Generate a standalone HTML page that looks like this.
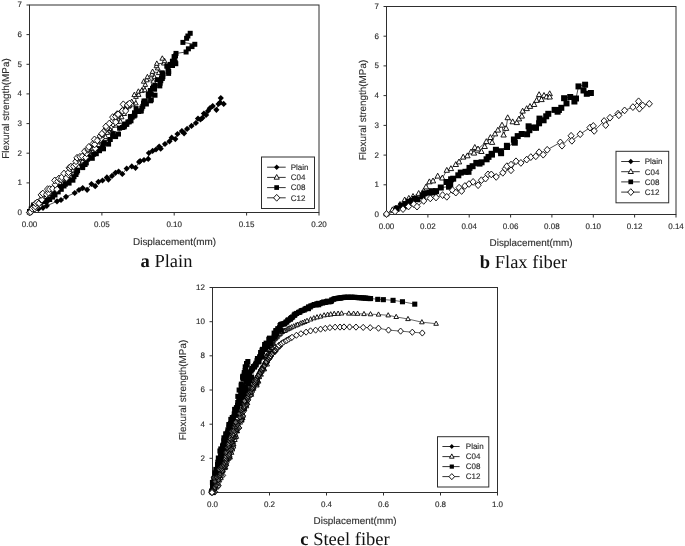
<!DOCTYPE html>
<html><head><meta charset="utf-8"><title>Flexural strength vs displacement</title>
<style>
html,body{margin:0;padding:0;background:#fff}
svg{display:block;text-rendering:geometricPrecision}
.t{font-family:"Liberation Sans",Arial,sans-serif;font-size:8px;fill:#2a2a2a;stroke:#333;stroke-width:0.15px}
.l{font-family:"Liberation Sans",Arial,sans-serif;font-size:9.9px;fill:#2a2a2a;stroke:#333;stroke-width:0.12px}
.c{font-family:"Liberation Serif","Times New Roman",serif;font-size:18.5px;fill:#111}
</style></head><body>
<svg width="685" height="546" viewBox="0 0 685 546">
<rect width="685" height="546" fill="#fff"/>
<g id="chart-a">
<rect x="29.5" y="5" width="289.5" height="207.5" fill="none" stroke="#2e2e2e" stroke-width="1"/>
<path d="M29.5 212.5v3" stroke="#2e2e2e" stroke-width="1"/>
<text x="29.5" y="227.2" text-anchor="middle" class="t">0.00</text>
<path d="M101.9 212.5v3" stroke="#2e2e2e" stroke-width="1"/>
<text x="101.9" y="227.2" text-anchor="middle" class="t">0.05</text>
<path d="M174.2 212.5v3" stroke="#2e2e2e" stroke-width="1"/>
<text x="174.2" y="227.2" text-anchor="middle" class="t">0.10</text>
<path d="M246.6 212.5v3" stroke="#2e2e2e" stroke-width="1"/>
<text x="246.6" y="227.2" text-anchor="middle" class="t">0.15</text>
<path d="M319 212.5v3" stroke="#2e2e2e" stroke-width="1"/>
<text x="319" y="227.2" text-anchor="middle" class="t">0.20</text>
<path d="M29.5 212.5h-3" stroke="#2e2e2e" stroke-width="1"/>
<text x="22" y="214.9" text-anchor="end" class="t">0</text>
<path d="M29.5 182.9h-3" stroke="#2e2e2e" stroke-width="1"/>
<text x="22" y="185.3" text-anchor="end" class="t">1</text>
<path d="M29.5 153.2h-3" stroke="#2e2e2e" stroke-width="1"/>
<text x="22" y="155.6" text-anchor="end" class="t">2</text>
<path d="M29.5 123.6h-3" stroke="#2e2e2e" stroke-width="1"/>
<text x="22" y="126" text-anchor="end" class="t">3</text>
<path d="M29.5 93.9h-3" stroke="#2e2e2e" stroke-width="1"/>
<text x="22" y="96.3" text-anchor="end" class="t">4</text>
<path d="M29.5 64.3h-3" stroke="#2e2e2e" stroke-width="1"/>
<text x="22" y="66.7" text-anchor="end" class="t">5</text>
<path d="M29.5 34.6h-3" stroke="#2e2e2e" stroke-width="1"/>
<text x="22" y="37" text-anchor="end" class="t">6</text>
<path d="M29.5 5h-3" stroke="#2e2e2e" stroke-width="1"/>
<text x="22" y="7.4" text-anchor="end" class="t">7</text>
<text transform="translate(9.2 108.5) rotate(-90)" text-anchor="middle" class="l">Flexural strength(MPa)</text>
<text x="174.5" y="245" text-anchor="middle" class="l">Displacement(mm)</text>
<text x="166.5" y="266.5" text-anchor="middle" class="c"><tspan font-weight="bold">a</tspan> Plain</text>
<g class="series-plain">
<path d="M29.5 212.5L38.5 209L43 207.8L46.8 205.8L57 201.3L61 200L66 196.8L74.7 193L79 190L82.7 188.1L87.1 189.8L91.5 184L95.2 186.2L98.4 181.8L102.5 180.5L106.9 177.4L108.4 179.6L112 175.9L115.5 172.8L118.6 171.5L122.3 174L126.7 168.6L131.8 166.4L135.5 167.8L139.1 162L140.1 161.1L144 160L148.2 158.9L148.9 153L152.6 150.9L156 149.5L159.2 146.5L160.7 148.7L165 144L169.5 141.3L171.7 137.7L175.3 139.1L177.5 134L181.9 131.1L184.1 133.3L187.1 128.9L191.5 125.9L195.9 123L198 118.6L200.5 119.5L202.4 117.9L203.9 113.5L206.1 114.9L208 111L209.8 108.3L212.7 106.1L216.4 109.8L218.5 104L220.8 98.1L220 102.5L223.7 103.9" fill="none" stroke="#000" stroke-width="0.7"/>
<g fill="#000">
<path d="M26.4 212.5L29.5 209.4L32.6 212.5L29.5 215.6Z"/>
<path d="M35.4 209L38.5 205.9L41.6 209L38.5 212.1Z"/>
<path d="M39.9 207.8L43 204.7L46.1 207.8L43 210.9Z"/>
<path d="M43.7 205.8L46.8 202.7L49.9 205.8L46.8 208.9Z"/>
<path d="M53.9 201.3L57 198.2L60.1 201.3L57 204.4Z"/>
<path d="M57.9 200L61 196.9L64.1 200L61 203.1Z"/>
<path d="M62.9 196.8L66 193.7L69.1 196.8L66 199.9Z"/>
<path d="M71.6 193L74.7 189.9L77.8 193L74.7 196.1Z"/>
<path d="M75.9 190L79 186.9L82.1 190L79 193.1Z"/>
<path d="M79.6 188.1L82.7 185L85.8 188.1L82.7 191.2Z"/>
<path d="M84 189.8L87.1 186.7L90.2 189.8L87.1 192.9Z"/>
<path d="M88.4 184L91.5 180.9L94.6 184L91.5 187.1Z"/>
<path d="M92.1 186.2L95.2 183.1L98.3 186.2L95.2 189.3Z"/>
<path d="M95.3 181.8L98.4 178.7L101.5 181.8L98.4 184.9Z"/>
<path d="M99.4 180.5L102.5 177.4L105.6 180.5L102.5 183.6Z"/>
<path d="M103.8 177.4L106.9 174.3L110 177.4L106.9 180.5Z"/>
<path d="M105.3 179.6L108.4 176.5L111.5 179.6L108.4 182.7Z"/>
<path d="M108.9 175.9L112 172.8L115.1 175.9L112 179Z"/>
<path d="M112.4 172.8L115.5 169.7L118.6 172.8L115.5 175.9Z"/>
<path d="M115.5 171.5L118.6 168.4L121.7 171.5L118.6 174.6Z"/>
<path d="M119.2 174L122.3 170.9L125.4 174L122.3 177.1Z"/>
<path d="M123.6 168.6L126.7 165.5L129.8 168.6L126.7 171.7Z"/>
<path d="M128.7 166.4L131.8 163.3L134.9 166.4L131.8 169.5Z"/>
<path d="M132.4 167.8L135.5 164.7L138.6 167.8L135.5 170.9Z"/>
<path d="M136 162L139.1 158.9L142.2 162L139.1 165.1Z"/>
<path d="M137 161.1L140.1 158L143.2 161.1L140.1 164.2Z"/>
<path d="M140.9 160L144 156.9L147.1 160L144 163.1Z"/>
<path d="M145.1 158.9L148.2 155.8L151.3 158.9L148.2 162Z"/>
<path d="M145.8 153L148.9 149.9L152 153L148.9 156.1Z"/>
<path d="M149.5 150.9L152.6 147.8L155.7 150.9L152.6 154Z"/>
<path d="M152.9 149.5L156 146.4L159.1 149.5L156 152.6Z"/>
<path d="M156.1 146.5L159.2 143.4L162.3 146.5L159.2 149.6Z"/>
<path d="M157.6 148.7L160.7 145.6L163.8 148.7L160.7 151.8Z"/>
<path d="M161.9 144L165 140.9L168.1 144L165 147.1Z"/>
<path d="M166.4 141.3L169.5 138.2L172.6 141.3L169.5 144.4Z"/>
<path d="M168.6 137.7L171.7 134.6L174.8 137.7L171.7 140.8Z"/>
<path d="M172.2 139.1L175.3 136L178.4 139.1L175.3 142.2Z"/>
<path d="M174.4 134L177.5 130.9L180.6 134L177.5 137.1Z"/>
<path d="M178.8 131.1L181.9 128L185 131.1L181.9 134.2Z"/>
<path d="M181 133.3L184.1 130.2L187.2 133.3L184.1 136.4Z"/>
<path d="M184 128.9L187.1 125.8L190.2 128.9L187.1 132Z"/>
<path d="M188.4 125.9L191.5 122.8L194.6 125.9L191.5 129Z"/>
<path d="M192.8 123L195.9 119.9L199 123L195.9 126.1Z"/>
<path d="M194.9 118.6L198 115.5L201.1 118.6L198 121.7Z"/>
<path d="M197.4 119.5L200.5 116.4L203.6 119.5L200.5 122.6Z"/>
<path d="M199.3 117.9L202.4 114.8L205.5 117.9L202.4 121Z"/>
<path d="M200.8 113.5L203.9 110.4L207 113.5L203.9 116.6Z"/>
<path d="M203 114.9L206.1 111.8L209.2 114.9L206.1 118Z"/>
<path d="M204.9 111L208 107.9L211.1 111L208 114.1Z"/>
<path d="M206.7 108.3L209.8 105.2L212.9 108.3L209.8 111.4Z"/>
<path d="M209.6 106.1L212.7 103L215.8 106.1L212.7 109.2Z"/>
<path d="M213.3 109.8L216.4 106.7L219.5 109.8L216.4 112.9Z"/>
<path d="M215.4 104L218.5 100.9L221.6 104L218.5 107.1Z"/>
<path d="M217.7 98.1L220.8 95L223.9 98.1L220.8 101.2Z"/>
<path d="M216.9 102.5L220 99.4L223.1 102.5L220 105.6Z"/>
<path d="M220.6 103.9L223.7 100.8L226.8 103.9L223.7 107Z"/>
</g></g>
<g class="series-c04">
<path d="M29.5 212.5L30.5 212L33.4 208.5L33.6 208.8L37.5 207L36.1 204.6L40.7 203.2L43.5 201.6L42.6 199.8L43.4 197.6L45.5 197.7L47.4 194.6L49.8 194L53.3 193.2L54 191.3L53 189.4L54.9 188.1L57.5 186.4L60.6 185.4L59.6 182.8L63 180.2L64.8 179.2L66.2 179.3L66.3 175.8L69.9 174.1L70.6 171.3L73 170.3L76.1 169.6L74.5 166.6L78.6 166.4L79.3 162.7L81.7 163.3L82.5 161.3L82.7 158.4L83.8 158L89.7 158L90.6 155.3L91.4 153.1L92.6 152L91.3 148.4L96 148.7L94.3 143.4L98.6 145L97.2 140.8L100.7 141.1L103.6 138.9L105.5 138.9L105.5 136.9L106.2 132.1L107.3 132.7L112 131.7L109.7 128.9L112 125.6L115.6 125.4L113.4 122.9L117.5 121.8L120.5 121.5L117.9 116.6L121.6 117.2L124.2 113.8L122.5 110.9L123.7 110.1L126.3 107.7L128.6 106.4L129.4 105.6L132.7 104.3L131.7 101.7L135.8 103.3L135.9 96.7L134.3 94.9L138.7 94.7L138.4 91.5L142.2 90.1L141.8 90.6L144.9 90.1L145.3 84.8L143.8 81.5L146.8 80.1L153.3 81.4L147.4 77L154.4 77L151.9 74.4L152.6 71.7L158.8 72.9L157.7 68.2L156.5 66L156.8 63.6L163.9 63.4L164.6 61L162.3 58.5" fill="none" stroke="#000" stroke-width="0.7"/>
<g fill="#fff" stroke="#000" stroke-width="0.9">
<path d="M29.5 209.8L31.9 214.2L27.1 214.2Z"/>
<path d="M30.5 209.3L32.8 213.7L28.1 213.7Z"/>
<path d="M33.4 205.8L35.8 210.2L31.1 210.2Z"/>
<path d="M33.6 206.1L36 210.5L31.3 210.5Z"/>
<path d="M37.5 204.3L39.9 208.7L35.2 208.7Z"/>
<path d="M36.1 201.9L38.5 206.3L33.8 206.3Z"/>
<path d="M40.7 200.5L43 204.9L38.3 204.9Z"/>
<path d="M43.5 198.9L45.8 203.3L41.1 203.3Z"/>
<path d="M42.6 197.1L44.9 201.5L40.2 201.5Z"/>
<path d="M43.4 194.9L45.8 199.3L41.1 199.3Z"/>
<path d="M45.5 195L47.9 199.4L43.2 199.4Z"/>
<path d="M47.4 191.9L49.8 196.2L45.1 196.2Z"/>
<path d="M49.8 191.3L52.2 195.7L47.5 195.7Z"/>
<path d="M53.3 190.5L55.7 194.9L51 194.9Z"/>
<path d="M54 188.6L56.3 193L51.6 193Z"/>
<path d="M53 186.7L55.4 191L50.7 191Z"/>
<path d="M54.9 185.4L57.3 189.8L52.6 189.8Z"/>
<path d="M57.5 183.7L59.8 188.1L55.1 188.1Z"/>
<path d="M60.6 182.7L63 187.1L58.3 187.1Z"/>
<path d="M59.6 180.1L62 184.5L57.3 184.5Z"/>
<path d="M63 177.5L65.4 181.9L60.7 181.9Z"/>
<path d="M64.8 176.5L67.2 180.9L62.5 180.9Z"/>
<path d="M66.2 176.6L68.6 181L63.9 181Z"/>
<path d="M66.3 173.1L68.7 177.5L64 177.5Z"/>
<path d="M69.9 171.4L72.3 175.8L67.6 175.8Z"/>
<path d="M70.6 168.6L73 173L68.3 173Z"/>
<path d="M73 167.6L75.4 172L70.7 172Z"/>
<path d="M76.1 166.9L78.4 171.3L73.7 171.3Z"/>
<path d="M74.5 163.9L76.8 168.2L72.1 168.2Z"/>
<path d="M78.6 163.7L80.9 168.1L76.2 168.1Z"/>
<path d="M79.3 160.1L81.7 164.4L77 164.4Z"/>
<path d="M81.7 160.6L84 164.9L79.3 164.9Z"/>
<path d="M82.5 158.6L84.9 163L80.2 163Z"/>
<path d="M82.7 155.8L85 160.1L80.3 160.1Z"/>
<path d="M83.8 155.3L86.1 159.7L81.4 159.7Z"/>
<path d="M89.7 155.3L92 159.6L87.3 159.6Z"/>
<path d="M90.6 152.6L93 156.9L88.3 156.9Z"/>
<path d="M91.4 150.5L93.7 154.8L89 154.8Z"/>
<path d="M92.6 149.3L95 153.6L90.3 153.6Z"/>
<path d="M91.3 145.7L93.6 150.1L88.9 150.1Z"/>
<path d="M96 146L98.4 150.4L93.7 150.4Z"/>
<path d="M94.3 140.7L96.6 145L91.9 145Z"/>
<path d="M98.6 142.3L100.9 146.6L96.2 146.6Z"/>
<path d="M97.2 138.1L99.5 142.5L94.8 142.5Z"/>
<path d="M100.7 138.4L103.1 142.8L98.4 142.8Z"/>
<path d="M103.6 136.2L105.9 140.6L101.2 140.6Z"/>
<path d="M105.5 136.2L107.9 140.6L103.2 140.6Z"/>
<path d="M105.5 134.2L107.8 138.6L103.1 138.6Z"/>
<path d="M106.2 129.4L108.5 133.8L103.8 133.8Z"/>
<path d="M107.3 130L109.6 134.4L104.9 134.4Z"/>
<path d="M112 129L114.3 133.4L109.6 133.4Z"/>
<path d="M109.7 126.2L112.1 130.5L107.4 130.5Z"/>
<path d="M112 122.9L114.3 127.3L109.6 127.3Z"/>
<path d="M115.6 122.7L117.9 127.1L113.2 127.1Z"/>
<path d="M113.4 120.2L115.8 124.6L111.1 124.6Z"/>
<path d="M117.5 119.1L119.8 123.4L115.1 123.4Z"/>
<path d="M120.5 118.8L122.9 123.2L118.2 123.2Z"/>
<path d="M117.9 113.9L120.3 118.2L115.6 118.2Z"/>
<path d="M121.6 114.5L124 118.8L119.3 118.8Z"/>
<path d="M124.2 111.2L126.5 115.5L121.8 115.5Z"/>
<path d="M122.5 108.2L124.9 112.6L120.2 112.6Z"/>
<path d="M123.7 107.4L126.1 111.8L121.4 111.8Z"/>
<path d="M126.3 105.1L128.6 109.4L123.9 109.4Z"/>
<path d="M128.6 103.8L131 108.1L126.3 108.1Z"/>
<path d="M129.4 102.9L131.8 107.3L127.1 107.3Z"/>
<path d="M132.7 101.6L135.1 106L130.4 106Z"/>
<path d="M131.7 99L134 103.3L129.3 103.3Z"/>
<path d="M135.8 100.6L138.2 104.9L133.5 104.9Z"/>
<path d="M135.9 94L138.3 98.4L133.6 98.4Z"/>
<path d="M134.3 92.2L136.6 96.6L131.9 96.6Z"/>
<path d="M138.7 92L141 96.4L136.3 96.4Z"/>
<path d="M138.4 88.8L140.7 93.1L136 93.1Z"/>
<path d="M142.2 87.4L144.6 91.8L139.9 91.8Z"/>
<path d="M141.8 87.9L144.1 92.3L139.4 92.3Z"/>
<path d="M144.9 87.4L147.3 91.8L142.5 91.8Z"/>
<path d="M145.3 82.1L147.6 86.4L142.9 86.4Z"/>
<path d="M143.8 78.8L146.1 83.2L141.4 83.2Z"/>
<path d="M146.8 77.4L149.2 81.8L144.5 81.8Z"/>
<path d="M153.3 78.8L155.6 83.1L150.9 83.1Z"/>
<path d="M147.4 74.3L149.8 78.7L145.1 78.7Z"/>
<path d="M154.4 74.3L156.8 78.7L152.1 78.7Z"/>
<path d="M151.9 71.8L154.2 76.1L149.5 76.1Z"/>
<path d="M152.6 69L154.9 73.4L150.2 73.4Z"/>
<path d="M158.8 70.2L161.1 74.6L156.4 74.6Z"/>
<path d="M157.7 65.5L160 69.9L155.3 69.9Z"/>
<path d="M156.5 63.3L158.8 67.7L154.1 67.7Z"/>
<path d="M156.8 60.9L159.2 65.3L154.5 65.3Z"/>
<path d="M163.9 60.7L166.2 65L161.5 65Z"/>
<path d="M164.6 58.3L166.9 62.7L162.2 62.7Z"/>
<path d="M162.3 55.8L164.7 60.2L159.9 60.2Z"/>
</g></g>
<g class="series-c08">
<path d="M29.5 211.5L31.2 209.1L33 207.3L33.6 205.1L36.2 205.1L39.9 202.8L43.8 201.6L46.1 201.6L46.9 200.5L49.8 199.5L52.7 197.1L55 195L54.4 192.4L58.2 191.9L61.3 189.3L59.6 187.4L64.1 186L65.4 184.3L69.1 183.1L68.7 179.7L72.9 180.2L74.1 176.8L76 174.5L76.9 172.1L77.6 170.5L82.8 167.6L82.6 165.9L85.1 164.5L86.3 162.9L87.6 159.2L88.6 157.4L92.3 158.3L93.7 154.3L96.3 153.8L99.5 150.7L99.8 148.9L103.5 148.8L102.9 144.7L104.3 143.5L108.6 144.1L110.3 139.5L112.6 136.4L115.7 136.6L113.3 133.6L118.5 134.2L119.7 128.3L122.4 127.5L124 126.8L124 126.8L124.5 125.6L125.4 124.1L126.8 124.4L127.9 121.9L129.4 121.9L131 120.8L130.5 116.4L132.2 117.3L134.1 116L135 115.1L134.6 112.8L138.7 111.5L136.2 108.6L140.5 110.9L141.4 111L141.9 108.1L142.8 106.4L143.5 103.1L144.1 101L146.4 104L145.3 101.2L150.6 100.8L151.4 99.8L148.4 96.3L148.3 94.2L151.3 94.4L155 95.2L150.3 90.5L152.5 88.3L154.7 89.2L153.5 86.7L155.1 85.6L159.8 85.9L160.1 83.3L157.5 79.7L160.9 80.9L162.4 78.5L161.5 77.8L162.9 76.7L163.1 73.8L162.2 72.8L168.6 73.4L168.7 71.5L168 69L166.8 66.2L168.1 66.1L170.1 64.5L172.5 65.6L172.4 61.3L175.8 63.8L175.2 62.1L174.4 59.7L174.1 56.6L175.5 56L176 53.4L186.1 52L188.4 48.8L192 46.6L194.8 44.3L182.9 42.4L186.6 38.3L187.9 36L190.2 33.3" fill="none" stroke="#000" stroke-width="0.7"/>
<g fill="#000">
<path d="M27 209h5v5h-5Z"/>
<path d="M28.7 206.5h5v5h-5Z"/>
<path d="M30.5 204.7h5v5h-5Z"/>
<path d="M31.1 202.6h5v5h-5Z"/>
<path d="M33.7 202.6h5v5h-5Z"/>
<path d="M37.4 200.3h5v5h-5Z"/>
<path d="M41.3 199h5v5h-5Z"/>
<path d="M43.6 199.1h5v5h-5Z"/>
<path d="M44.4 197.9h5v5h-5Z"/>
<path d="M47.2 197h5v5h-5Z"/>
<path d="M50.1 194.6h5v5h-5Z"/>
<path d="M52.5 192.5h5v5h-5Z"/>
<path d="M51.9 189.8h5v5h-5Z"/>
<path d="M55.7 189.4h5v5h-5Z"/>
<path d="M58.8 186.8h5v5h-5Z"/>
<path d="M57.1 184.9h5v5h-5Z"/>
<path d="M61.5 183.5h5v5h-5Z"/>
<path d="M62.8 181.8h5v5h-5Z"/>
<path d="M66.6 180.6h5v5h-5Z"/>
<path d="M66.1 177.2h5v5h-5Z"/>
<path d="M70.4 177.7h5v5h-5Z"/>
<path d="M71.5 174.2h5v5h-5Z"/>
<path d="M73.5 172h5v5h-5Z"/>
<path d="M74.4 169.6h5v5h-5Z"/>
<path d="M75.1 168h5v5h-5Z"/>
<path d="M80.2 165.1h5v5h-5Z"/>
<path d="M80.1 163.4h5v5h-5Z"/>
<path d="M82.6 162h5v5h-5Z"/>
<path d="M83.8 160.4h5v5h-5Z"/>
<path d="M85.1 156.7h5v5h-5Z"/>
<path d="M86 154.9h5v5h-5Z"/>
<path d="M89.8 155.8h5v5h-5Z"/>
<path d="M91.2 151.8h5v5h-5Z"/>
<path d="M93.8 151.2h5v5h-5Z"/>
<path d="M97 148.2h5v5h-5Z"/>
<path d="M97.3 146.4h5v5h-5Z"/>
<path d="M101 146.3h5v5h-5Z"/>
<path d="M100.4 142.2h5v5h-5Z"/>
<path d="M101.8 140.9h5v5h-5Z"/>
<path d="M106.1 141.6h5v5h-5Z"/>
<path d="M107.8 137h5v5h-5Z"/>
<path d="M110.1 133.8h5v5h-5Z"/>
<path d="M113.1 134.1h5v5h-5Z"/>
<path d="M110.8 131.1h5v5h-5Z"/>
<path d="M116 131.6h5v5h-5Z"/>
<path d="M117.1 125.7h5v5h-5Z"/>
<path d="M119.9 125h5v5h-5Z"/>
<path d="M121.5 124.3h5v5h-5Z"/>
<path d="M121.5 124.3h5v5h-5Z"/>
<path d="M122 123.1h5v5h-5Z"/>
<path d="M122.9 121.5h5v5h-5Z"/>
<path d="M124.3 121.9h5v5h-5Z"/>
<path d="M125.4 119.4h5v5h-5Z"/>
<path d="M126.8 119.3h5v5h-5Z"/>
<path d="M128.5 118.3h5v5h-5Z"/>
<path d="M127.9 113.9h5v5h-5Z"/>
<path d="M129.7 114.7h5v5h-5Z"/>
<path d="M131.6 113.5h5v5h-5Z"/>
<path d="M132.5 112.6h5v5h-5Z"/>
<path d="M132 110.3h5v5h-5Z"/>
<path d="M136.2 109h5v5h-5Z"/>
<path d="M133.6 106.1h5v5h-5Z"/>
<path d="M138 108.4h5v5h-5Z"/>
<path d="M138.8 108.5h5v5h-5Z"/>
<path d="M139.3 105.6h5v5h-5Z"/>
<path d="M140.3 103.9h5v5h-5Z"/>
<path d="M141 100.6h5v5h-5Z"/>
<path d="M141.5 98.5h5v5h-5Z"/>
<path d="M143.9 101.5h5v5h-5Z"/>
<path d="M142.8 98.7h5v5h-5Z"/>
<path d="M148.1 98.3h5v5h-5Z"/>
<path d="M148.8 97.3h5v5h-5Z"/>
<path d="M145.9 93.8h5v5h-5Z"/>
<path d="M145.8 91.7h5v5h-5Z"/>
<path d="M148.7 91.9h5v5h-5Z"/>
<path d="M152.5 92.7h5v5h-5Z"/>
<path d="M147.8 88h5v5h-5Z"/>
<path d="M150 85.8h5v5h-5Z"/>
<path d="M152.1 86.7h5v5h-5Z"/>
<path d="M151 84.2h5v5h-5Z"/>
<path d="M152.6 83h5v5h-5Z"/>
<path d="M157.3 83.4h5v5h-5Z"/>
<path d="M157.6 80.7h5v5h-5Z"/>
<path d="M155 77.2h5v5h-5Z"/>
<path d="M158.3 78.3h5v5h-5Z"/>
<path d="M159.8 76h5v5h-5Z"/>
<path d="M159 75.3h5v5h-5Z"/>
<path d="M160.4 74.2h5v5h-5Z"/>
<path d="M160.5 71.3h5v5h-5Z"/>
<path d="M159.7 70.3h5v5h-5Z"/>
<path d="M166.1 70.9h5v5h-5Z"/>
<path d="M166.2 69h5v5h-5Z"/>
<path d="M165.5 66.5h5v5h-5Z"/>
<path d="M164.3 63.7h5v5h-5Z"/>
<path d="M165.6 63.5h5v5h-5Z"/>
<path d="M167.6 61.9h5v5h-5Z"/>
<path d="M170 63h5v5h-5Z"/>
<path d="M169.9 58.7h5v5h-5Z"/>
<path d="M173.3 61.2h5v5h-5Z"/>
<path d="M172.7 59.6h5v5h-5Z"/>
<path d="M171.9 57.2h5v5h-5Z"/>
<path d="M171.6 54.1h5v5h-5Z"/>
<path d="M173 53.5h5v5h-5Z"/>
<path d="M173.5 50.9h5v5h-5Z"/>
<path d="M183.6 49.5h5v5h-5Z"/>
<path d="M185.9 46.3h5v5h-5Z"/>
<path d="M189.5 44.1h5v5h-5Z"/>
<path d="M192.3 41.8h5v5h-5Z"/>
<path d="M180.4 39.9h5v5h-5Z"/>
<path d="M184.1 35.8h5v5h-5Z"/>
<path d="M185.4 33.5h5v5h-5Z"/>
<path d="M187.7 30.8h5v5h-5Z"/>
</g></g>
<g class="series-c12">
<path d="M29.5 212.5L30.7 211.9L32.2 208.8L34.8 208.6L35.2 206.4L35.6 203.4L37.2 202.4L39.1 203.3L41.1 199.6L41.9 199.7L41.2 194.9L42.8 193.5L46.6 194.3L48.5 192.7L47.6 189.1L49.7 189.1L52.6 188.8L56.9 189.2L55.3 184.7L54.8 180.4L57.8 181.3L58.9 178.5L61.1 179.4L61.8 177.2L66.4 178L64 173.5L68.4 174.5L68.6 172.3L69.2 167.8L70 168.4L70.9 166.6L73.7 166.3L75.7 164.6L76 161.3L77.7 158.3L77 157.8L79.9 156.8L82.3 156.4L85.8 157.4L86.6 153.3L84.7 151.3L87.9 149.9L88.2 148.7L88.8 146.9L95.2 148.4L93.1 143.7L94.7 144.4L94.5 139.4L97.3 140.5L101.3 138.3L100.3 135.9L102.3 134.7L102 133.6L105.1 130.3L106.9 128.9L106.8 127.8L106 126.4L111.6 125.7L113 123.8L112.9 120.8L115.7 122.1L112.7 117.1L115.6 116.6L117.1 114.1L118.1 114.3L121.9 111.3L122.4 110.9L125.6 110.9L123.3 104.3L127.6 105.5L127.5 105L129.5 103.5L109.3 123.5" fill="none" stroke="#000" stroke-width="0.7"/>
<g fill="#fff" stroke="#000" stroke-width="0.9">
<path d="M26.4 212.5L29.5 209.1L32.6 212.5L29.5 215.9Z"/>
<path d="M27.6 211.9L30.7 208.5L33.8 211.9L30.7 215.3Z"/>
<path d="M29.1 208.8L32.2 205.4L35.3 208.8L32.2 212.2Z"/>
<path d="M31.7 208.6L34.8 205.2L37.9 208.6L34.8 212Z"/>
<path d="M32.1 206.4L35.2 203L38.3 206.4L35.2 209.8Z"/>
<path d="M32.5 203.4L35.6 200L38.7 203.4L35.6 206.8Z"/>
<path d="M34.1 202.4L37.2 199L40.3 202.4L37.2 205.8Z"/>
<path d="M36 203.3L39.1 199.9L42.2 203.3L39.1 206.7Z"/>
<path d="M38 199.6L41.1 196.2L44.2 199.6L41.1 203Z"/>
<path d="M38.8 199.7L41.9 196.3L45 199.7L41.9 203.1Z"/>
<path d="M38.1 194.9L41.2 191.5L44.3 194.9L41.2 198.3Z"/>
<path d="M39.7 193.5L42.8 190.1L45.9 193.5L42.8 196.9Z"/>
<path d="M43.5 194.3L46.6 190.9L49.7 194.3L46.6 197.7Z"/>
<path d="M45.4 192.7L48.5 189.3L51.6 192.7L48.5 196.1Z"/>
<path d="M44.5 189.1L47.6 185.7L50.7 189.1L47.6 192.5Z"/>
<path d="M46.6 189.1L49.7 185.7L52.8 189.1L49.7 192.5Z"/>
<path d="M49.5 188.8L52.6 185.4L55.7 188.8L52.6 192.2Z"/>
<path d="M53.8 189.2L56.9 185.8L60 189.2L56.9 192.6Z"/>
<path d="M52.2 184.7L55.3 181.3L58.4 184.7L55.3 188.1Z"/>
<path d="M51.7 180.4L54.8 177L57.9 180.4L54.8 183.8Z"/>
<path d="M54.7 181.3L57.8 177.9L60.9 181.3L57.8 184.7Z"/>
<path d="M55.8 178.5L58.9 175.1L62 178.5L58.9 181.9Z"/>
<path d="M58 179.4L61.1 176L64.2 179.4L61.1 182.8Z"/>
<path d="M58.7 177.2L61.8 173.8L64.9 177.2L61.8 180.6Z"/>
<path d="M63.3 178L66.4 174.6L69.5 178L66.4 181.4Z"/>
<path d="M60.9 173.5L64 170.1L67.1 173.5L64 176.9Z"/>
<path d="M65.3 174.5L68.4 171.1L71.5 174.5L68.4 177.9Z"/>
<path d="M65.5 172.3L68.6 168.9L71.7 172.3L68.6 175.7Z"/>
<path d="M66.1 167.8L69.2 164.4L72.3 167.8L69.2 171.2Z"/>
<path d="M66.9 168.4L70 165L73.1 168.4L70 171.8Z"/>
<path d="M67.8 166.6L70.9 163.2L74 166.6L70.9 170Z"/>
<path d="M70.6 166.3L73.7 162.9L76.8 166.3L73.7 169.7Z"/>
<path d="M72.6 164.6L75.7 161.2L78.8 164.6L75.7 168Z"/>
<path d="M72.9 161.3L76 157.9L79.1 161.3L76 164.7Z"/>
<path d="M74.6 158.3L77.7 154.9L80.8 158.3L77.7 161.7Z"/>
<path d="M73.9 157.8L77 154.4L80.1 157.8L77 161.2Z"/>
<path d="M76.8 156.8L79.9 153.4L83 156.8L79.9 160.2Z"/>
<path d="M79.2 156.4L82.3 153L85.4 156.4L82.3 159.8Z"/>
<path d="M82.7 157.4L85.8 154L88.9 157.4L85.8 160.8Z"/>
<path d="M83.5 153.3L86.6 149.9L89.7 153.3L86.6 156.7Z"/>
<path d="M81.6 151.3L84.7 147.9L87.8 151.3L84.7 154.7Z"/>
<path d="M84.8 149.9L87.9 146.5L91 149.9L87.9 153.3Z"/>
<path d="M85.1 148.7L88.2 145.3L91.3 148.7L88.2 152.1Z"/>
<path d="M85.7 146.9L88.8 143.5L91.9 146.9L88.8 150.3Z"/>
<path d="M92.1 148.4L95.2 145L98.3 148.4L95.2 151.8Z"/>
<path d="M90 143.7L93.1 140.3L96.2 143.7L93.1 147.1Z"/>
<path d="M91.6 144.4L94.7 141L97.8 144.4L94.7 147.8Z"/>
<path d="M91.4 139.4L94.5 136L97.6 139.4L94.5 142.8Z"/>
<path d="M94.2 140.5L97.3 137.1L100.4 140.5L97.3 143.9Z"/>
<path d="M98.2 138.3L101.3 134.9L104.4 138.3L101.3 141.7Z"/>
<path d="M97.2 135.9L100.3 132.5L103.4 135.9L100.3 139.3Z"/>
<path d="M99.2 134.7L102.3 131.3L105.4 134.7L102.3 138.1Z"/>
<path d="M98.9 133.6L102 130.2L105.1 133.6L102 137Z"/>
<path d="M102 130.3L105.1 126.9L108.2 130.3L105.1 133.7Z"/>
<path d="M103.8 128.9L106.9 125.5L110 128.9L106.9 132.3Z"/>
<path d="M103.7 127.8L106.8 124.4L109.9 127.8L106.8 131.2Z"/>
<path d="M102.9 126.4L106 123L109.1 126.4L106 129.8Z"/>
<path d="M108.5 125.7L111.6 122.3L114.7 125.7L111.6 129.1Z"/>
<path d="M109.9 123.8L113 120.4L116.1 123.8L113 127.2Z"/>
<path d="M109.8 120.8L112.9 117.4L116 120.8L112.9 124.2Z"/>
<path d="M112.6 122.1L115.7 118.7L118.8 122.1L115.7 125.5Z"/>
<path d="M109.6 117.1L112.7 113.7L115.8 117.1L112.7 120.5Z"/>
<path d="M112.5 116.6L115.6 113.2L118.7 116.6L115.6 120Z"/>
<path d="M114 114.1L117.1 110.7L120.2 114.1L117.1 117.5Z"/>
<path d="M115 114.3L118.1 110.9L121.2 114.3L118.1 117.7Z"/>
<path d="M118.8 111.3L121.9 107.9L125 111.3L121.9 114.7Z"/>
<path d="M119.3 110.9L122.4 107.5L125.5 110.9L122.4 114.3Z"/>
<path d="M122.5 110.9L125.6 107.5L128.7 110.9L125.6 114.3Z"/>
<path d="M120.2 104.3L123.3 100.9L126.4 104.3L123.3 107.7Z"/>
<path d="M124.5 105.5L127.6 102.1L130.7 105.5L127.6 108.9Z"/>
<path d="M124.4 105L127.5 101.6L130.6 105L127.5 108.4Z"/>
<path d="M126.4 103.5L129.5 100.1L132.6 103.5L129.5 106.9Z"/>
<path d="M106.2 123.5L109.3 120.1L112.4 123.5L109.3 126.9Z"/>
</g></g>
<rect x="261.5" y="157" width="53" height="51.5" fill="#fff" stroke="#2e2e2e" stroke-width="1"/>
<path d="M267.1 167.2h18.6" stroke="#000" stroke-width="0.8"/>
<g fill="#000"><path d="M274 167.2L276.7 164.5L279.4 167.2L276.7 169.9Z"/></g>
<text x="290.7" y="170" class="t">Plain</text>
<path d="M267.1 177.4h18.6" stroke="#000" stroke-width="0.8"/>
<g fill="#fff" stroke="#000" stroke-width="0.9"><path d="M276.7 174.5L279.3 179.2L274.1 179.2Z"/></g>
<text x="290.7" y="180.2" class="t">C04</text>
<path d="M267.1 187.6h18.6" stroke="#000" stroke-width="0.8"/>
<g fill="#000"><path d="M274.3 185.2h4.7v4.7h-4.7Z"/></g>
<text x="290.7" y="190.4" class="t">C08</text>
<path d="M267.1 197.8h18.6" stroke="#000" stroke-width="0.8"/>
<g fill="#fff" stroke="#000" stroke-width="0.9"><path d="M273.6 197.8L276.7 194.4L279.8 197.8L276.7 201.2Z"/></g>
<text x="290.7" y="200.6" class="t">C12</text>
</g>
<g id="chart-b">
<rect x="386.5" y="6.5" width="289.5" height="208" fill="none" stroke="#2e2e2e" stroke-width="1"/>
<path d="M386.5 214.5v3" stroke="#2e2e2e" stroke-width="1"/>
<text x="386.5" y="228.7" text-anchor="middle" class="t">0.00</text>
<path d="M427.9 214.5v3" stroke="#2e2e2e" stroke-width="1"/>
<text x="427.9" y="228.7" text-anchor="middle" class="t">0.02</text>
<path d="M469.2 214.5v3" stroke="#2e2e2e" stroke-width="1"/>
<text x="469.2" y="228.7" text-anchor="middle" class="t">0.04</text>
<path d="M510.6 214.5v3" stroke="#2e2e2e" stroke-width="1"/>
<text x="510.6" y="228.7" text-anchor="middle" class="t">0.06</text>
<path d="M551.9 214.5v3" stroke="#2e2e2e" stroke-width="1"/>
<text x="551.9" y="228.7" text-anchor="middle" class="t">0.08</text>
<path d="M593.3 214.5v3" stroke="#2e2e2e" stroke-width="1"/>
<text x="593.3" y="228.7" text-anchor="middle" class="t">0.10</text>
<path d="M634.6 214.5v3" stroke="#2e2e2e" stroke-width="1"/>
<text x="634.6" y="228.7" text-anchor="middle" class="t">0.12</text>
<path d="M676 214.5v3" stroke="#2e2e2e" stroke-width="1"/>
<text x="676" y="228.7" text-anchor="middle" class="t">0.14</text>
<path d="M386.5 214.5h-3" stroke="#2e2e2e" stroke-width="1"/>
<text x="379" y="216.9" text-anchor="end" class="t">0</text>
<path d="M386.5 184.8h-3" stroke="#2e2e2e" stroke-width="1"/>
<text x="379" y="187.2" text-anchor="end" class="t">1</text>
<path d="M386.5 155.1h-3" stroke="#2e2e2e" stroke-width="1"/>
<text x="379" y="157.5" text-anchor="end" class="t">2</text>
<path d="M386.5 125.4h-3" stroke="#2e2e2e" stroke-width="1"/>
<text x="379" y="127.8" text-anchor="end" class="t">3</text>
<path d="M386.5 95.6h-3" stroke="#2e2e2e" stroke-width="1"/>
<text x="379" y="98" text-anchor="end" class="t">4</text>
<path d="M386.5 65.9h-3" stroke="#2e2e2e" stroke-width="1"/>
<text x="379" y="68.3" text-anchor="end" class="t">5</text>
<path d="M386.5 36.2h-3" stroke="#2e2e2e" stroke-width="1"/>
<text x="379" y="38.6" text-anchor="end" class="t">6</text>
<path d="M386.5 6.5h-3" stroke="#2e2e2e" stroke-width="1"/>
<text x="379" y="8.9" text-anchor="end" class="t">7</text>
<text transform="translate(365.8 110) rotate(-90)" text-anchor="middle" class="l">Flexural strength(MPa)</text>
<text x="531" y="246.3" text-anchor="middle" class="l">Displacement(mm)</text>
<text x="523.5" y="267.5" text-anchor="middle" class="c"><tspan font-weight="bold">b</tspan> Flax fiber</text>
<g class="series-plain">
<g fill="#000">
<path d="M383.4 214L386.5 210.9L389.6 214L386.5 217.1Z"/>
</g></g>
<g class="series-c04">
<path d="M386.5 214L392.4 209.9L396 208L400 204.5L404.7 200L408.8 198.4L413 196.5L418.7 193.5L423.7 191L426 187L429.4 181.9L433 181L437.7 176.2L442.3 178.1L446.8 170.4L450.9 168.7L455.8 164.6L459 162L463.2 157.2L467.4 155.9L471 152L474.8 147.5L474 153.2L481.4 151.6L478 149L486.3 141.7L484.7 146.6L490.4 137.6L492.1 142.5L495 134L497.9 130.2L502 125.2L503.6 135.1L506.1 128.5L507.7 117.8L512.7 121.9L516.8 122.7L519 119L521.8 116.2L522.6 111.2L526.7 108.7L530 106.5L534.1 104.6L536.6 100.5L539.1 94.7L541.5 99.7L544 95.5L546.5 97L549.7 93.8L549.7 97.1" fill="none" stroke="#000" stroke-width="0.7"/>
<g fill="#fff" stroke="#000" stroke-width="0.9">
<path d="M386.5 211L389.2 215.9L383.8 215.9Z"/>
<path d="M392.4 206.9L395.1 211.8L389.7 211.8Z"/>
<path d="M396 205L398.7 209.9L393.3 209.9Z"/>
<path d="M400 201.5L402.7 206.4L397.3 206.4Z"/>
<path d="M404.7 197L407.4 201.9L402 201.9Z"/>
<path d="M408.8 195.4L411.5 200.3L406.1 200.3Z"/>
<path d="M413 193.5L415.7 198.4L410.3 198.4Z"/>
<path d="M418.7 190.5L421.4 195.4L416 195.4Z"/>
<path d="M423.7 188L426.4 192.9L421 192.9Z"/>
<path d="M426 184L428.7 188.9L423.3 188.9Z"/>
<path d="M429.4 178.9L432.1 183.8L426.7 183.8Z"/>
<path d="M433 178L435.7 182.9L430.3 182.9Z"/>
<path d="M437.7 173.2L440.4 178.1L435 178.1Z"/>
<path d="M442.3 175.1L445 180L439.6 180Z"/>
<path d="M446.8 167.4L449.5 172.3L444.1 172.3Z"/>
<path d="M450.9 165.7L453.6 170.6L448.2 170.6Z"/>
<path d="M455.8 161.6L458.5 166.5L453.1 166.5Z"/>
<path d="M459 159L461.7 163.9L456.3 163.9Z"/>
<path d="M463.2 154.2L465.9 159.1L460.5 159.1Z"/>
<path d="M467.4 152.9L470.1 157.8L464.7 157.8Z"/>
<path d="M471 149L473.7 153.9L468.3 153.9Z"/>
<path d="M474.8 144.5L477.5 149.4L472.1 149.4Z"/>
<path d="M474 150.2L476.7 155.1L471.3 155.1Z"/>
<path d="M481.4 148.6L484.1 153.5L478.7 153.5Z"/>
<path d="M478 146L480.7 150.9L475.3 150.9Z"/>
<path d="M486.3 138.7L489 143.6L483.6 143.6Z"/>
<path d="M484.7 143.6L487.4 148.5L482 148.5Z"/>
<path d="M490.4 134.6L493.1 139.5L487.7 139.5Z"/>
<path d="M492.1 139.5L494.8 144.4L489.4 144.4Z"/>
<path d="M495 131L497.7 135.9L492.3 135.9Z"/>
<path d="M497.9 127.2L500.6 132.1L495.2 132.1Z"/>
<path d="M502 122.2L504.7 127.1L499.3 127.1Z"/>
<path d="M503.6 132.1L506.3 137L500.9 137Z"/>
<path d="M506.1 125.5L508.8 130.4L503.4 130.4Z"/>
<path d="M507.7 114.8L510.4 119.7L505 119.7Z"/>
<path d="M512.7 118.9L515.4 123.8L510 123.8Z"/>
<path d="M516.8 119.7L519.5 124.6L514.1 124.6Z"/>
<path d="M519 116L521.7 120.9L516.3 120.9Z"/>
<path d="M521.8 113.2L524.5 118.1L519.1 118.1Z"/>
<path d="M522.6 108.2L525.3 113.1L519.9 113.1Z"/>
<path d="M526.7 105.7L529.4 110.6L524 110.6Z"/>
<path d="M530 103.5L532.7 108.4L527.3 108.4Z"/>
<path d="M534.1 101.6L536.8 106.5L531.4 106.5Z"/>
<path d="M536.6 97.5L539.3 102.4L533.9 102.4Z"/>
<path d="M539.1 91.7L541.8 96.6L536.4 96.6Z"/>
<path d="M541.5 96.7L544.2 101.6L538.8 101.6Z"/>
<path d="M544 92.5L546.7 97.4L541.3 97.4Z"/>
<path d="M546.5 94L549.2 98.9L543.8 98.9Z"/>
<path d="M549.7 90.8L552.4 95.7L547 95.7Z"/>
<path d="M549.7 94.1L552.4 99L547 99Z"/>
</g></g>
<g class="series-c08">
<path d="M396.5 208.8L401.3 205.8L404.1 205.8L405.7 204.1L408.4 201.8L411.8 201L414.7 199L417.5 199.3L422.6 196L424.4 193.4L429.3 192.7L431.8 191.2L434.4 192.4L436.1 191.1L440.8 187.5L449 186.7L446.5 182L450.2 184.1L451.1 179.3L453.2 178.7L458.3 175.3L460.8 172.6L465.5 171.8L468.5 171.8L469.5 167.9L472.6 166.2L479.5 163.6L476.3 162.9L481.6 162.3L486.6 159.3L488.5 156.9L492 154.6L491.6 153.8L495.9 149.8L501.1 153.2L500.9 151.2L506.9 145.8L507 147L514.8 142.7L514.3 140.8L513.9 139.6L517.7 136.1L521.7 134L527.1 134.3L529.4 130.2L528.6 126.3L533.9 127.5L536 127.8L539.1 123.3L539.5 118.6L543.6 120.3L546.2 116.3L548.3 113.8L554.6 109.9L557.6 111.7L558.9 110L561.3 107.8L566.5 103.4L564.1 98.2L570.2 97L574.4 101.5L576 98.5L578.5 86.4L585.1 84.7L583.5 90.5L586.8 93.8L590.9 93" fill="none" stroke="#000" stroke-width="0.7"/>
<g fill="#000">
<path d="M393.5 205.8h6v6h-6Z"/>
<path d="M398.3 202.8h6v6h-6Z"/>
<path d="M401.1 202.8h6v6h-6Z"/>
<path d="M402.7 201.1h6v6h-6Z"/>
<path d="M405.4 198.8h6v6h-6Z"/>
<path d="M408.8 198h6v6h-6Z"/>
<path d="M411.7 196h6v6h-6Z"/>
<path d="M414.5 196.3h6v6h-6Z"/>
<path d="M419.6 193h6v6h-6Z"/>
<path d="M421.4 190.4h6v6h-6Z"/>
<path d="M426.3 189.7h6v6h-6Z"/>
<path d="M428.8 188.2h6v6h-6Z"/>
<path d="M431.4 189.4h6v6h-6Z"/>
<path d="M433.1 188.1h6v6h-6Z"/>
<path d="M437.8 184.5h6v6h-6Z"/>
<path d="M446 183.7h6v6h-6Z"/>
<path d="M443.5 179h6v6h-6Z"/>
<path d="M447.2 181.1h6v6h-6Z"/>
<path d="M448.1 176.3h6v6h-6Z"/>
<path d="M450.2 175.7h6v6h-6Z"/>
<path d="M455.3 172.3h6v6h-6Z"/>
<path d="M457.8 169.6h6v6h-6Z"/>
<path d="M462.5 168.8h6v6h-6Z"/>
<path d="M465.5 168.8h6v6h-6Z"/>
<path d="M466.5 164.9h6v6h-6Z"/>
<path d="M469.6 163.2h6v6h-6Z"/>
<path d="M476.5 160.6h6v6h-6Z"/>
<path d="M473.3 159.9h6v6h-6Z"/>
<path d="M478.6 159.3h6v6h-6Z"/>
<path d="M483.6 156.3h6v6h-6Z"/>
<path d="M485.5 153.9h6v6h-6Z"/>
<path d="M489 151.6h6v6h-6Z"/>
<path d="M488.6 150.8h6v6h-6Z"/>
<path d="M492.9 146.8h6v6h-6Z"/>
<path d="M498.1 150.2h6v6h-6Z"/>
<path d="M497.9 148.2h6v6h-6Z"/>
<path d="M503.9 142.8h6v6h-6Z"/>
<path d="M504 144h6v6h-6Z"/>
<path d="M511.8 139.7h6v6h-6Z"/>
<path d="M511.3 137.8h6v6h-6Z"/>
<path d="M510.9 136.6h6v6h-6Z"/>
<path d="M514.7 133.1h6v6h-6Z"/>
<path d="M518.7 131h6v6h-6Z"/>
<path d="M524.1 131.3h6v6h-6Z"/>
<path d="M526.4 127.2h6v6h-6Z"/>
<path d="M525.6 123.3h6v6h-6Z"/>
<path d="M530.9 124.5h6v6h-6Z"/>
<path d="M533 124.8h6v6h-6Z"/>
<path d="M536.1 120.3h6v6h-6Z"/>
<path d="M536.5 115.6h6v6h-6Z"/>
<path d="M540.6 117.3h6v6h-6Z"/>
<path d="M543.2 113.3h6v6h-6Z"/>
<path d="M545.3 110.8h6v6h-6Z"/>
<path d="M551.6 106.9h6v6h-6Z"/>
<path d="M554.6 108.7h6v6h-6Z"/>
<path d="M555.9 107h6v6h-6Z"/>
<path d="M558.3 104.8h6v6h-6Z"/>
<path d="M563.5 100.4h6v6h-6Z"/>
<path d="M561.1 95.2h6v6h-6Z"/>
<path d="M567.2 94h6v6h-6Z"/>
<path d="M571.4 98.5h6v6h-6Z"/>
<path d="M573 95.5h6v6h-6Z"/>
<path d="M575.5 83.4h6v6h-6Z"/>
<path d="M582.1 81.7h6v6h-6Z"/>
<path d="M580.5 87.5h6v6h-6Z"/>
<path d="M583.8 90.8h6v6h-6Z"/>
<path d="M587.9 90h6v6h-6Z"/>
</g></g>
<g class="series-c12">
<path d="M386.5 214L395 211.5L403 209.1L408.5 206.5L413.8 204.2L417 206.6L423.7 200.9L430.3 198.4L436 197.5L442.6 195.1L446.8 196.8L452.5 190.2L455.8 192.6L459.1 187.7L461.6 191L464.9 186L469 184L473.1 181.9L478.1 185.2L481.4 180.2L485.5 178.6L488 174.4L491.3 174.4L496.2 176.9L502.8 172.8L505.3 168.7L506.9 166.2L511 164.6L511 170.3L516 161.3L520.9 162.9L526.7 159.6L530.8 157.1L535.8 156.3L539.1 152.2L543.2 154.7L547.2 149.8L560.4 142.4L562 145.7L571.1 135.8L571.9 140.8L580.2 134.2L590 127.6L593.3 125.9L594.2 130.9L604.1 121L605.7 125.1L610 117.7L618 113.7L618.8 115.3L624.6 110.4L632.9 107.1L638.6 101.3L639.4 108.7L642.7 105.4L649.3 103.8" fill="none" stroke="#000" stroke-width="0.7"/>
<g fill="#fff" stroke="#000" stroke-width="0.9">
<path d="M383.4 214L386.5 210.6L389.6 214L386.5 217.4Z"/>
<path d="M391.9 211.5L395 208.1L398.1 211.5L395 214.9Z"/>
<path d="M399.9 209.1L403 205.7L406.1 209.1L403 212.5Z"/>
<path d="M405.4 206.5L408.5 203.1L411.6 206.5L408.5 209.9Z"/>
<path d="M410.7 204.2L413.8 200.8L416.9 204.2L413.8 207.6Z"/>
<path d="M413.9 206.6L417 203.2L420.1 206.6L417 210Z"/>
<path d="M420.6 200.9L423.7 197.5L426.8 200.9L423.7 204.3Z"/>
<path d="M427.2 198.4L430.3 195L433.4 198.4L430.3 201.8Z"/>
<path d="M432.9 197.5L436 194.1L439.1 197.5L436 200.9Z"/>
<path d="M439.5 195.1L442.6 191.7L445.7 195.1L442.6 198.5Z"/>
<path d="M443.7 196.8L446.8 193.4L449.9 196.8L446.8 200.2Z"/>
<path d="M449.4 190.2L452.5 186.8L455.6 190.2L452.5 193.6Z"/>
<path d="M452.7 192.6L455.8 189.2L458.9 192.6L455.8 196Z"/>
<path d="M456 187.7L459.1 184.3L462.2 187.7L459.1 191.1Z"/>
<path d="M458.5 191L461.6 187.6L464.7 191L461.6 194.4Z"/>
<path d="M461.8 186L464.9 182.6L468 186L464.9 189.4Z"/>
<path d="M465.9 184L469 180.6L472.1 184L469 187.4Z"/>
<path d="M470 181.9L473.1 178.5L476.2 181.9L473.1 185.3Z"/>
<path d="M475 185.2L478.1 181.8L481.2 185.2L478.1 188.6Z"/>
<path d="M478.3 180.2L481.4 176.8L484.5 180.2L481.4 183.6Z"/>
<path d="M482.4 178.6L485.5 175.2L488.6 178.6L485.5 182Z"/>
<path d="M484.9 174.4L488 171L491.1 174.4L488 177.8Z"/>
<path d="M488.2 174.4L491.3 171L494.4 174.4L491.3 177.8Z"/>
<path d="M493.1 176.9L496.2 173.5L499.3 176.9L496.2 180.3Z"/>
<path d="M499.7 172.8L502.8 169.4L505.9 172.8L502.8 176.2Z"/>
<path d="M502.2 168.7L505.3 165.3L508.4 168.7L505.3 172.1Z"/>
<path d="M503.8 166.2L506.9 162.8L510 166.2L506.9 169.6Z"/>
<path d="M507.9 164.6L511 161.2L514.1 164.6L511 168Z"/>
<path d="M507.9 170.3L511 166.9L514.1 170.3L511 173.7Z"/>
<path d="M512.9 161.3L516 157.9L519.1 161.3L516 164.7Z"/>
<path d="M517.8 162.9L520.9 159.5L524 162.9L520.9 166.3Z"/>
<path d="M523.6 159.6L526.7 156.2L529.8 159.6L526.7 163Z"/>
<path d="M527.7 157.1L530.8 153.7L533.9 157.1L530.8 160.5Z"/>
<path d="M532.7 156.3L535.8 152.9L538.9 156.3L535.8 159.7Z"/>
<path d="M536 152.2L539.1 148.8L542.2 152.2L539.1 155.6Z"/>
<path d="M540.1 154.7L543.2 151.3L546.3 154.7L543.2 158.1Z"/>
<path d="M544.1 149.8L547.2 146.4L550.3 149.8L547.2 153.2Z"/>
<path d="M557.3 142.4L560.4 139L563.5 142.4L560.4 145.8Z"/>
<path d="M558.9 145.7L562 142.3L565.1 145.7L562 149.1Z"/>
<path d="M568 135.8L571.1 132.4L574.2 135.8L571.1 139.2Z"/>
<path d="M568.8 140.8L571.9 137.4L575 140.8L571.9 144.2Z"/>
<path d="M577.1 134.2L580.2 130.8L583.3 134.2L580.2 137.6Z"/>
<path d="M586.9 127.6L590 124.2L593.1 127.6L590 131Z"/>
<path d="M590.2 125.9L593.3 122.5L596.4 125.9L593.3 129.3Z"/>
<path d="M591.1 130.9L594.2 127.5L597.3 130.9L594.2 134.3Z"/>
<path d="M601 121L604.1 117.6L607.2 121L604.1 124.4Z"/>
<path d="M602.6 125.1L605.7 121.7L608.8 125.1L605.7 128.5Z"/>
<path d="M606.9 117.7L610 114.3L613.1 117.7L610 121.1Z"/>
<path d="M614.9 113.7L618 110.3L621.1 113.7L618 117.1Z"/>
<path d="M615.7 115.3L618.8 111.9L621.9 115.3L618.8 118.7Z"/>
<path d="M621.5 110.4L624.6 107L627.7 110.4L624.6 113.8Z"/>
<path d="M629.8 107.1L632.9 103.7L636 107.1L632.9 110.5Z"/>
<path d="M635.5 101.3L638.6 97.9L641.7 101.3L638.6 104.7Z"/>
<path d="M636.3 108.7L639.4 105.3L642.5 108.7L639.4 112.1Z"/>
<path d="M639.6 105.4L642.7 102L645.8 105.4L642.7 108.8Z"/>
<path d="M646.2 103.8L649.3 100.4L652.4 103.8L649.3 107.2Z"/>
</g></g>
<rect x="616" y="151.3" width="52.7" height="51.5" fill="#fff" stroke="#2e2e2e" stroke-width="1"/>
<path d="M621.2 161.5h18.6" stroke="#000" stroke-width="0.8"/>
<g fill="#000"><path d="M628.1 161.5L630.8 158.8L633.5 161.5L630.8 164.2Z"/></g>
<text x="644.7" y="164.3" class="t">Plain</text>
<path d="M621.2 171.7h18.6" stroke="#000" stroke-width="0.8"/>
<g fill="#fff" stroke="#000" stroke-width="0.9"><path d="M630.8 168.8L633.4 173.5L628.2 173.5Z"/></g>
<text x="644.7" y="174.5" class="t">C04</text>
<path d="M621.2 181.9h18.6" stroke="#000" stroke-width="0.8"/>
<g fill="#000"><path d="M628.4 179.5h4.7v4.7h-4.7Z"/></g>
<text x="644.7" y="184.7" class="t">C08</text>
<path d="M621.2 192.1h18.6" stroke="#000" stroke-width="0.8"/>
<g fill="#fff" stroke="#000" stroke-width="0.9"><path d="M627.7 192.1L630.8 188.7L633.9 192.1L630.8 195.5Z"/></g>
<text x="644.7" y="194.9" class="t">C12</text>
</g>
<g id="chart-c">
<rect x="212.5" y="287.5" width="285" height="205" fill="none" stroke="#2e2e2e" stroke-width="1"/>
<path d="M212.5 492.5v3" stroke="#2e2e2e" stroke-width="1"/>
<text x="212.5" y="507.2" text-anchor="middle" class="t">0.0</text>
<path d="M269.5 492.5v3" stroke="#2e2e2e" stroke-width="1"/>
<text x="269.5" y="507.2" text-anchor="middle" class="t">0.2</text>
<path d="M326.5 492.5v3" stroke="#2e2e2e" stroke-width="1"/>
<text x="326.5" y="507.2" text-anchor="middle" class="t">0.4</text>
<path d="M383.5 492.5v3" stroke="#2e2e2e" stroke-width="1"/>
<text x="383.5" y="507.2" text-anchor="middle" class="t">0.6</text>
<path d="M440.5 492.5v3" stroke="#2e2e2e" stroke-width="1"/>
<text x="440.5" y="507.2" text-anchor="middle" class="t">0.8</text>
<path d="M497.5 492.5v3" stroke="#2e2e2e" stroke-width="1"/>
<text x="497.5" y="507.2" text-anchor="middle" class="t">1.0</text>
<path d="M212.5 492.5h-3" stroke="#2e2e2e" stroke-width="1"/>
<text x="205" y="494.9" text-anchor="end" class="t">0</text>
<path d="M212.5 458.3h-3" stroke="#2e2e2e" stroke-width="1"/>
<text x="205" y="460.7" text-anchor="end" class="t">2</text>
<path d="M212.5 424.2h-3" stroke="#2e2e2e" stroke-width="1"/>
<text x="205" y="426.6" text-anchor="end" class="t">4</text>
<path d="M212.5 390h-3" stroke="#2e2e2e" stroke-width="1"/>
<text x="205" y="392.4" text-anchor="end" class="t">6</text>
<path d="M212.5 355.8h-3" stroke="#2e2e2e" stroke-width="1"/>
<text x="205" y="358.2" text-anchor="end" class="t">8</text>
<path d="M212.5 321.7h-3" stroke="#2e2e2e" stroke-width="1"/>
<text x="205" y="324.1" text-anchor="end" class="t">10</text>
<path d="M212.5 287.5h-3" stroke="#2e2e2e" stroke-width="1"/>
<text x="205" y="289.9" text-anchor="end" class="t">12</text>
<text transform="translate(186 390) rotate(-90)" text-anchor="middle" class="l">Flexural strength(MPa)</text>
<text x="355" y="524" text-anchor="middle" class="l">Displacement(mm)</text>
<text x="345" y="545" text-anchor="middle" class="c"><tspan font-weight="bold">c</tspan> Steel fiber</text>
<g class="series-plain">
<g fill="#000">
<path d="M208.9 492.5L212 489.4L215.1 492.5L212 495.6Z"/>
</g></g>
<g class="series-c04">
<path d="M212 492.5L211.7 491.5L211.5 490.3L213.2 488.8L211.5 488.6L214.7 487.3L216.2 486.2L214.8 484.7L218.4 483.9L214.9 483.9L216.4 481.5L216.5 481.2L216.8 480.4L219.3 480L220.8 478L218 478.7L218.2 477.3L218.9 476L221.8 474.4L221.3 473.7L221.4 472.1L222.4 470.9L222.2 470.6L222.8 469.9L222 469.3L224.7 467.9L225.5 467.3L223.7 466.7L223.3 464.9L226.3 464L223.4 463.4L225.2 462L226.9 460L226.7 458.9L228.2 458.7L229.2 457.3L230.1 457.3L228.7 455.4L229.6 455.9L228.4 453.6L231.5 452.6L228.8 451.5L230.5 451.2L229.5 449.2L232.3 449.3L232.2 448L228.9 446.5L233.4 446.4L233.1 444.4L233.6 444.2L231.5 442.3L233.2 441.7L232.2 440.6L234.8 439.8L232.2 438.1L235.3 437.3L236.3 436.6L233.4 435.4L235.6 434.5L233.1 433.7L237.1 431.2L236.9 430.8L236.1 429.8L236.2 428L237.5 427.8L237.5 426.7L239.1 426.6L236.3 425.6L237.4 424.2L240.1 422.4L237.6 421.8L241.7 419.8L241.5 420.5L242.6 418.1L242 417.9L242.1 417.1L240.1 416.2L243.1 415.5L240.6 412.6L242 412.6L241.1 411.7L242.8 409.9L244.5 408.7L243.8 409L244.2 407.3L243.4 406.5L246.4 406.1L246.2 404.9L247.4 403L245.2 402.6L246.1 401.9L246.8 400.5L247.5 398.5L246.5 398.1L245.9 397.6L246.6 395.7L248.2 394.8L251.2 394.6L249.8 393.3L250.4 393L250.8 392L250.3 390.2L253.4 388.6L252.1 389L253.8 387.3L250.8 387.5L256.8 385.3L256.6 384.3L255.4 383.3L256.9 382.8L258.5 381.4L257.3 381.2L257.7 379.9L256 378.2L257 378.1L259.2 377L259 376.5L261 374.5L259.8 373.8L259 372.2L259.5 372.3L261.7 371.4L260.8 370.4L261.1 368.4L264.3 369.1L263.3 368L263.1 365.6L267.1 364.3L264.4 364.1L264.3 363.7L266.4 362L265.5 362.2L267 359.9L267.1 360.7L267.1 358.3L266.1 358L266.3 356.2L266.6 355.8L269.1 354.3L268.5 353.2L270.4 352L270.6 351L270.3 350L269 349.8L272.9 347.9L271.8 347.7L269.9 345.4L270.8 345.1L273.6 343.7L272.5 343" fill="none" stroke="#000" stroke-width="0.6"/>
<g fill="#fff" fill-opacity="0.2" stroke="#000" stroke-width="0.9">
<path d="M212 489.8L214.4 494.2L209.6 494.2Z"/>
<path d="M211.7 488.8L214.1 493.2L209.3 493.2Z"/>
<path d="M211.5 487.6L213.9 492L209.1 492Z"/>
<path d="M213.2 486.1L215.6 490.5L210.8 490.5Z"/>
<path d="M211.5 485.9L213.9 490.3L209.1 490.3Z"/>
<path d="M214.7 484.6L217.1 489L212.3 489Z"/>
<path d="M216.2 483.5L218.5 487.9L213.8 487.9Z"/>
<path d="M214.8 482L217.2 486.4L212.4 486.4Z"/>
<path d="M218.4 481.2L220.7 485.6L216 485.6Z"/>
<path d="M214.9 481.2L217.2 485.6L212.5 485.6Z"/>
<path d="M216.4 478.7L218.8 483.2L214 483.2Z"/>
<path d="M216.5 478.4L218.9 482.9L214.1 482.9Z"/>
<path d="M216.8 477.7L219.2 482.1L214.4 482.1Z"/>
<path d="M219.3 477.2L221.7 481.7L216.9 481.7Z"/>
<path d="M220.8 475.3L223.2 479.7L218.4 479.7Z"/>
<path d="M218 475.9L220.4 480.4L215.6 480.4Z"/>
<path d="M218.2 474.6L220.6 479L215.8 479Z"/>
<path d="M218.9 473.2L221.3 477.7L216.6 477.7Z"/>
<path d="M221.8 471.7L224.2 476.1L219.4 476.1Z"/>
<path d="M221.3 470.9L223.7 475.4L218.9 475.4Z"/>
<path d="M221.4 469.4L223.8 473.8L219 473.8Z"/>
<path d="M222.4 468.2L224.8 472.6L220 472.6Z"/>
<path d="M222.2 467.9L224.6 472.3L219.8 472.3Z"/>
<path d="M222.8 467.2L225.2 471.6L220.4 471.6Z"/>
<path d="M222 466.5L224.4 471L219.7 471Z"/>
<path d="M224.7 465.2L227.1 469.6L222.4 469.6Z"/>
<path d="M225.5 464.5L227.9 469L223.1 469Z"/>
<path d="M223.7 464L226.1 468.4L221.3 468.4Z"/>
<path d="M223.3 462.2L225.7 466.6L221 466.6Z"/>
<path d="M226.3 461.2L228.7 465.7L223.9 465.7Z"/>
<path d="M223.4 460.6L225.8 465.1L221 465.1Z"/>
<path d="M225.2 459.3L227.6 463.7L222.9 463.7Z"/>
<path d="M226.9 457.2L229.2 461.7L224.5 461.7Z"/>
<path d="M226.7 456.1L229.1 460.6L224.3 460.6Z"/>
<path d="M228.2 456L230.6 460.4L225.8 460.4Z"/>
<path d="M229.2 454.6L231.6 459L226.9 459Z"/>
<path d="M230.1 454.6L232.4 459L227.7 459Z"/>
<path d="M228.7 452.7L231.1 457.1L226.3 457.1Z"/>
<path d="M229.6 453.2L232 457.6L227.2 457.6Z"/>
<path d="M228.4 450.8L230.7 455.3L226 455.3Z"/>
<path d="M231.5 449.9L233.9 454.3L229.1 454.3Z"/>
<path d="M228.8 448.8L231.1 453.2L226.4 453.2Z"/>
<path d="M230.5 448.5L232.9 452.9L228.1 452.9Z"/>
<path d="M229.5 446.4L231.8 450.9L227.1 450.9Z"/>
<path d="M232.3 446.6L234.7 451L229.9 451Z"/>
<path d="M232.2 445.3L234.6 449.7L229.9 449.7Z"/>
<path d="M228.9 443.7L231.3 448.2L226.5 448.2Z"/>
<path d="M233.4 443.6L235.8 448.1L231 448.1Z"/>
<path d="M233.1 441.7L235.5 446.1L230.7 446.1Z"/>
<path d="M233.6 441.5L236 445.9L231.3 445.9Z"/>
<path d="M231.5 439.5L233.8 444L229.1 444Z"/>
<path d="M233.2 439L235.6 443.4L230.8 443.4Z"/>
<path d="M232.2 437.9L234.5 442.3L229.8 442.3Z"/>
<path d="M234.8 437.1L237.2 441.5L232.5 441.5Z"/>
<path d="M232.2 435.4L234.6 439.8L229.8 439.8Z"/>
<path d="M235.3 434.5L237.7 439L232.9 439Z"/>
<path d="M236.3 433.9L238.7 438.3L234 438.3Z"/>
<path d="M233.4 432.6L235.8 437.1L231.1 437.1Z"/>
<path d="M235.6 431.8L238 436.2L233.2 436.2Z"/>
<path d="M233.1 430.9L235.5 435.4L230.8 435.4Z"/>
<path d="M237.1 428.5L239.5 432.9L234.7 432.9Z"/>
<path d="M236.9 428.1L239.3 432.5L234.5 432.5Z"/>
<path d="M236.1 427.1L238.4 431.5L233.7 431.5Z"/>
<path d="M236.2 425.3L238.6 429.7L233.9 429.7Z"/>
<path d="M237.5 425.1L239.9 429.5L235.1 429.5Z"/>
<path d="M237.5 423.9L239.8 428.4L235.1 428.4Z"/>
<path d="M239.1 423.9L241.5 428.3L236.8 428.3Z"/>
<path d="M236.3 422.9L238.7 427.3L233.9 427.3Z"/>
<path d="M237.4 421.5L239.8 425.9L235 425.9Z"/>
<path d="M240.1 419.7L242.5 424.1L237.8 424.1Z"/>
<path d="M237.6 419.1L239.9 423.5L235.2 423.5Z"/>
<path d="M241.7 417.1L244.1 421.5L239.3 421.5Z"/>
<path d="M241.5 417.8L243.9 422.2L239.1 422.2Z"/>
<path d="M242.6 415.3L245 419.8L240.3 419.8Z"/>
<path d="M242 415.1L244.4 419.6L239.6 419.6Z"/>
<path d="M242.1 414.4L244.5 418.8L239.8 418.8Z"/>
<path d="M240.1 413.4L242.5 417.9L237.8 417.9Z"/>
<path d="M243.1 412.8L245.5 417.2L240.8 417.2Z"/>
<path d="M240.6 409.9L243 414.3L238.3 414.3Z"/>
<path d="M242 409.8L244.4 414.3L239.7 414.3Z"/>
<path d="M241.1 409L243.5 413.4L238.8 413.4Z"/>
<path d="M242.8 407.2L245.2 411.6L240.4 411.6Z"/>
<path d="M244.5 406L246.9 410.4L242.1 410.4Z"/>
<path d="M243.8 406.2L246.2 410.7L241.4 410.7Z"/>
<path d="M244.2 404.6L246.6 409L241.8 409Z"/>
<path d="M243.4 403.8L245.8 408.2L241.1 408.2Z"/>
<path d="M246.4 403.3L248.8 407.8L244 407.8Z"/>
<path d="M246.2 402.2L248.5 406.6L243.8 406.6Z"/>
<path d="M247.4 400.3L249.8 404.7L245.1 404.7Z"/>
<path d="M245.2 399.9L247.6 404.3L242.8 404.3Z"/>
<path d="M246.1 399.2L248.5 403.6L243.7 403.6Z"/>
<path d="M246.8 397.8L249.2 402.2L244.5 402.2Z"/>
<path d="M247.5 395.8L249.9 400.2L245.1 400.2Z"/>
<path d="M246.5 395.4L248.9 399.8L244.1 399.8Z"/>
<path d="M245.9 394.8L248.3 399.3L243.6 399.3Z"/>
<path d="M246.6 393L249 397.4L244.2 397.4Z"/>
<path d="M248.2 392.1L250.6 396.5L245.8 396.5Z"/>
<path d="M251.2 391.9L253.6 396.3L248.9 396.3Z"/>
<path d="M249.8 390.6L252.2 395L247.4 395Z"/>
<path d="M250.4 390.3L252.8 394.7L248 394.7Z"/>
<path d="M250.8 389.2L253.2 393.7L248.4 393.7Z"/>
<path d="M250.3 387.5L252.7 391.9L247.9 391.9Z"/>
<path d="M253.4 385.9L255.8 390.3L251 390.3Z"/>
<path d="M252.1 386.3L254.5 390.7L249.7 390.7Z"/>
<path d="M253.8 384.5L256.1 389L251.4 389Z"/>
<path d="M250.8 384.8L253.2 389.2L248.4 389.2Z"/>
<path d="M256.8 382.6L259.2 387L254.4 387Z"/>
<path d="M256.6 381.5L259 386L254.3 386Z"/>
<path d="M255.4 380.6L257.8 385L253 385Z"/>
<path d="M256.9 380L259.3 384.5L254.6 384.5Z"/>
<path d="M258.5 378.6L260.9 383.1L256.1 383.1Z"/>
<path d="M257.3 378.5L259.6 382.9L254.9 382.9Z"/>
<path d="M257.7 377.2L260 381.6L255.3 381.6Z"/>
<path d="M256 375.4L258.4 379.9L253.7 379.9Z"/>
<path d="M257 375.4L259.4 379.8L254.6 379.8Z"/>
<path d="M259.2 374.3L261.6 378.7L256.8 378.7Z"/>
<path d="M259 373.8L261.4 378.2L256.6 378.2Z"/>
<path d="M261 371.8L263.4 376.2L258.6 376.2Z"/>
<path d="M259.8 371L262.2 375.5L257.4 375.5Z"/>
<path d="M259 369.5L261.4 373.9L256.6 373.9Z"/>
<path d="M259.5 369.6L261.9 374L257.1 374Z"/>
<path d="M261.7 368.7L264 373.1L259.3 373.1Z"/>
<path d="M260.8 367.7L263.2 372.1L258.4 372.1Z"/>
<path d="M261.1 365.7L263.5 370.1L258.7 370.1Z"/>
<path d="M264.3 366.4L266.7 370.8L261.9 370.8Z"/>
<path d="M263.3 365.3L265.7 369.7L260.9 369.7Z"/>
<path d="M263.1 362.8L265.5 367.3L260.8 367.3Z"/>
<path d="M267.1 361.6L269.5 366L264.8 366Z"/>
<path d="M264.4 361.4L266.8 365.8L262 365.8Z"/>
<path d="M264.3 361L266.6 365.4L261.9 365.4Z"/>
<path d="M266.4 359.3L268.8 363.7L264.1 363.7Z"/>
<path d="M265.5 359.4L267.8 363.9L263.1 363.9Z"/>
<path d="M267 357.2L269.4 361.6L264.7 361.6Z"/>
<path d="M267.1 358L269.5 362.4L264.7 362.4Z"/>
<path d="M267.1 355.6L269.5 360L264.7 360Z"/>
<path d="M266.1 355.3L268.5 359.7L263.7 359.7Z"/>
<path d="M266.3 353.5L268.6 357.9L263.9 357.9Z"/>
<path d="M266.6 353.1L269 357.5L264.2 357.5Z"/>
<path d="M269.1 351.6L271.4 356L266.7 356Z"/>
<path d="M268.5 350.5L270.9 354.9L266.1 354.9Z"/>
<path d="M270.4 349.3L272.8 353.7L268.1 353.7Z"/>
<path d="M270.6 348.3L273 352.7L268.2 352.7Z"/>
<path d="M270.3 347.3L272.7 351.7L267.9 351.7Z"/>
<path d="M269 347.1L271.4 351.5L266.7 351.5Z"/>
<path d="M272.9 345.2L275.3 349.6L270.5 349.6Z"/>
<path d="M271.8 345L274.2 349.4L269.4 349.4Z"/>
<path d="M269.9 342.7L272.3 347.1L267.5 347.1Z"/>
<path d="M270.8 342.4L273.2 346.8L268.4 346.8Z"/>
<path d="M273.6 341L276 345.4L271.3 345.4Z"/>
<path d="M272.5 340.3L274.9 344.7L270.1 344.7Z"/>
</g></g>
<g class="series-c04">
<path d="M271 343L271.8 341.9L273.3 340.7L274.7 339.1L275.6 338.2L277 337L277.8 335.5L279.2 334.6L280.1 333.7L281.3 332.3L282.3 331.9L284.3 330.8L285.3 330.5L287.3 329.4L288.6 328.5L289.9 328.2L291.5 327.2L293.7 326.3L296.1 325.3L297.8 324.6L300.5 323.4L302.5 322.7L304.7 321.8L307 320.8L310.6 319.4L313.8 318.2L317 317.3L320.4 316.5L324.1 315.3L327.6 314.7L330.7 314.4L334.2 313.8L338.1 313.7L341.6 313.4L348.8 313.5L353.6 313.6L357.6 313.7L364 314L370.5 314.2L378.5 314.5L388.2 315.3L396.2 316.9L408 319L421.9 322.2L436.1 323.7" fill="none" stroke="#000" stroke-width="0.6"/>
<g fill="#fff" stroke="#000" stroke-width="0.9">
<path d="M271 340.4L273.3 344.6L268.7 344.6Z"/>
<path d="M271.8 339.3L274.1 343.6L269.6 343.6Z"/>
<path d="M273.3 338.1L275.6 342.3L271 342.3Z"/>
<path d="M274.7 336.5L277 340.8L272.5 340.8Z"/>
<path d="M275.6 335.6L277.9 339.8L273.3 339.8Z"/>
<path d="M277 334.4L279.3 338.7L274.7 338.7Z"/>
<path d="M277.8 332.9L280.1 337.2L275.5 337.2Z"/>
<path d="M279.2 332L281.5 336.2L276.9 336.2Z"/>
<path d="M280.1 331.1L282.4 335.4L277.8 335.4Z"/>
<path d="M281.3 329.7L283.6 334L279 334Z"/>
<path d="M282.3 329.3L284.6 333.5L280 333.5Z"/>
<path d="M284.3 328.2L286.6 332.5L282 332.5Z"/>
<path d="M285.3 327.9L287.6 332.1L283 332.1Z"/>
<path d="M287.3 326.7L289.6 331L285 331Z"/>
<path d="M288.6 325.9L290.9 330.2L286.3 330.2Z"/>
<path d="M289.9 325.5L292.2 329.8L287.6 329.8Z"/>
<path d="M291.5 324.6L293.8 328.8L289.2 328.8Z"/>
<path d="M293.7 323.7L295.9 328L291.4 328Z"/>
<path d="M296.1 322.7L298.4 327L293.8 327Z"/>
<path d="M297.8 322L300.1 326.2L295.5 326.2Z"/>
<path d="M300.5 320.8L302.8 325.1L298.2 325.1Z"/>
<path d="M302.5 320.1L304.8 324.3L300.3 324.3Z"/>
<path d="M304.7 319.2L307 323.5L302.4 323.5Z"/>
<path d="M307 318.2L309.3 322.4L304.7 322.4Z"/>
<path d="M310.6 316.7L312.8 321L308.3 321Z"/>
<path d="M313.8 315.6L316.1 319.8L311.5 319.8Z"/>
<path d="M317 314.6L319.3 318.9L314.7 318.9Z"/>
<path d="M320.4 313.8L322.7 318.1L318.1 318.1Z"/>
<path d="M324.1 312.7L326.4 316.9L321.8 316.9Z"/>
<path d="M327.6 312.1L329.9 316.3L325.3 316.3Z"/>
<path d="M330.7 311.7L333 316L328.4 316Z"/>
<path d="M334.2 311.2L336.5 315.5L331.9 315.5Z"/>
<path d="M338.1 311L340.4 315.3L335.8 315.3Z"/>
<path d="M341.6 310.8L343.9 315L339.3 315Z"/>
<path d="M348.8 310.9L351.1 315.1L346.5 315.1Z"/>
<path d="M353.6 311L355.9 315.2L351.3 315.2Z"/>
<path d="M357.6 311.1L359.9 315.3L355.3 315.3Z"/>
<path d="M364 311.4L366.3 315.6L361.7 315.6Z"/>
<path d="M370.5 311.6L372.8 315.8L368.2 315.8Z"/>
<path d="M378.5 311.9L380.8 316.1L376.2 316.1Z"/>
<path d="M388.2 312.7L390.5 316.9L385.9 316.9Z"/>
<path d="M396.2 314.3L398.5 318.5L393.9 318.5Z"/>
<path d="M408 316.4L410.3 320.6L405.7 320.6Z"/>
<path d="M421.9 319.6L424.2 323.8L419.6 323.8Z"/>
<path d="M436.1 321.1L438.4 325.3L433.8 325.3Z"/>
</g></g>
<g class="series-c08">
<path d="M213 492.5L212.8 491.5L212.3 490.8L213.7 490.7L214.3 489.1L213.1 488.4L212.9 488.1L213.2 486.9L212.6 485.9L215.2 484.7L213.3 484.2L214.6 483.7L212.5 482.4L215.1 481.8L214.4 480.7L215.2 480.1L214.7 478.6L213.9 478.5L216.6 478.6L216.9 476.7L217.3 475.5L216.3 475.3L217 474.2L215.2 474.7L214.9 472.8L216.7 471.1L216.3 471.2L217.3 470.9L215.8 469.4L217.7 468.3L218.5 467.7L217.7 466.6L219.1 465.8L218 465.4L217.5 464.6L220.3 463.3L217.8 462.3L219 462.3L219.7 460.7L220.8 460.4L218.9 458.5L220.8 457.8L218.4 458L220.4 456.8L221.2 456.4L220.7 454.7L221 453.9L222.8 453.4L223 453.2L222.4 451.9L220 451.1L223.7 450.7L221.4 450.7L220.8 448.9L222.8 447.1L223.9 447.3L222.6 446.3L222.8 445.2L223.9 445.1L224.5 444.1L225.3 442.6L224.8 443L223.9 441.9L224 440.4L225.9 440L226.6 439.8L225.4 439L223.9 437.8L225.8 437.7L226.8 436L226.2 435L225.8 433.9L227.3 433.3L228.7 431.7L227.7 432L228.9 430.5L227.9 429.8L229.6 429.8L229.6 428.2L229.4 428.3L229.2 427.2L231.1 426.5L228.9 424.8L229.3 424.6L230.5 423.8L230.9 423.6L232.7 422.5L233.2 421.1L232.7 420.4L230.8 419.5L233.1 419.2L232.7 417.6L232.3 417.6L233.6 417L236 415.4L235.8 414.7L234.3 413.9L236.2 413.6L235 413.9L235.9 411.6L237.1 411L236 410.5L234.6 409.5L237 408.8L236.1 409.1L236.5 407.6L237.5 406.7L237.5 405.5L238 405.2L240.5 403.4L237.8 402.6L238.4 402.5L239.1 401.6L239 400.3L239.7 399.9L239.9 398.1L243.2 398.2L239.4 397.2L237.8 396.4L242.9 396.2L244.3 396.1L241.1 393.1L241.1 393.5L243.5 392.1L245.5 391.7L241.1 391.2L239.2 390L243.9 389.3L246.3 389.2L245.3 387.3L244.2 387L242.2 386.2L241.3 385.6L241.3 384.1L248.5 384.2L246.3 382.2L248.1 381.6L246.7 381.5L250.1 381L246.1 379.2L250.1 378.3L243 377.1L251.5 377.1L246.1 376.2L248.4 375.1L247.2 375.2L249.3 374.4L249.6 373.3L247.5 373.5L248 372L243 379L242.7 377.3L242.9 376.2L244.4 374.7L244.7 373L244.2 372.6L245.1 370.8L245.5 369.8L245.6 368.5L245.2 366.8L246.7 365L246.9 364.1L246.5 363.5L247.8 361.5L251 371L251.8 369.6L252.1 368.8L252.5 368.7L253.3 366.7L254.4 367L254.9 365.8L255.7 364.7L256 364.7L256 363.3L258.3 362L257 360.7L259 361.3L257.5 358.6L259.9 358L260.2 357.1L259.7 356.8L261.9 356.5L260.8 354.9L261.5 353.7L260.6 352.6L262.5 351.6L262 350.2L262.5 349.4L264.3 349.7L265.5 348.2L264.6 346.9L267.6 346.4L264.7 344.6L267.3 344.5L266.2 343.2L269.4 343.5L270.3 343.3L269.4 340.1L268.9 339.3L269.5 338.1L270.9 339L272.8 339.1L274.2 337.1L274.8 336.7L275 335.7L275.7 334.7L274.2 333.1L276.6 333.7L275.8 330.7L276.2 330.7L278.1 329.6L277.9 328.6L281.1 330.3L279.6 327.7L280 325.6L280.8 324.5L281.6 324.3L282.9 323.8L284 324L284.7 323.4L285.9 322.2L286.9 322L287.8 320.3L288.6 319.9L290.3 319.2L290.6 318.4L291.7 317.6L292.6 316.9L294.1 315.3L294.7 315.1L295 314.1L296.6 313.4L298.6 312.5L298.9 312.5L300 312L301.3 310.7L302.4 310.4L304.2 310.1L305.1 309L306.3 308.5L307.8 308.3L308.4 308.7L308.5 307L310.3 306.9L311 305.8L312.9 305.4L314.3 304.5L316.1 304.9L316.9 303.7L318.7 304.8L318.7 303.3L320.2 303.6L322.2 302.6L322.6 302.9L323.7 301.9L325.2 302.5L326.4 301.7L327.5 301.1L328.9 301.8L330.5 301.6L331.5 301L331.8 299.8L333.7 299.2L334.8 298.7L336.1 298.5L337.5 298.5L338.2 298.2L340 298L340 298L341.4 297.7L342.9 297.5L344.2 297.2L345.9 297.2L347.6 297.2L348.5 297.3L350.5 297.3L351.2 297.3L352.7 297.3L354.6 297.4L355.9 297.4L357.4 297.5L358.9 297.7L359.9 297.6L361.7 297.8L363.3 298L364.9 298.1L365.9 298.1L367.8 298.3L369 298.5L370.5 298.5L377.7 299.3L383.3 299.6L393 300.3L402.4 301.7L414.7 304.1" fill="none" stroke="#000" stroke-width="0.6"/>
<g fill="#000">
<path d="M210.5 490h5.1v5.1h-5.1Z"/>
<path d="M210.2 488.9h5.1v5.1h-5.1Z"/>
<path d="M209.8 488.3h5.1v5.1h-5.1Z"/>
<path d="M211.2 488.2h5.1v5.1h-5.1Z"/>
<path d="M211.8 486.5h5.1v5.1h-5.1Z"/>
<path d="M210.5 485.9h5.1v5.1h-5.1Z"/>
<path d="M210.4 485.6h5.1v5.1h-5.1Z"/>
<path d="M210.6 484.4h5.1v5.1h-5.1Z"/>
<path d="M210 483.3h5.1v5.1h-5.1Z"/>
<path d="M212.7 482.1h5.1v5.1h-5.1Z"/>
<path d="M210.8 481.6h5.1v5.1h-5.1Z"/>
<path d="M212.1 481.2h5.1v5.1h-5.1Z"/>
<path d="M209.9 479.9h5.1v5.1h-5.1Z"/>
<path d="M212.5 479.2h5.1v5.1h-5.1Z"/>
<path d="M211.9 478.1h5.1v5.1h-5.1Z"/>
<path d="M212.6 477.5h5.1v5.1h-5.1Z"/>
<path d="M212.1 476.1h5.1v5.1h-5.1Z"/>
<path d="M211.3 475.9h5.1v5.1h-5.1Z"/>
<path d="M214 476.1h5.1v5.1h-5.1Z"/>
<path d="M214.4 474.1h5.1v5.1h-5.1Z"/>
<path d="M214.8 472.9h5.1v5.1h-5.1Z"/>
<path d="M213.8 472.7h5.1v5.1h-5.1Z"/>
<path d="M214.4 471.6h5.1v5.1h-5.1Z"/>
<path d="M212.6 472.1h5.1v5.1h-5.1Z"/>
<path d="M212.3 470.3h5.1v5.1h-5.1Z"/>
<path d="M214.1 468.5h5.1v5.1h-5.1Z"/>
<path d="M213.8 468.6h5.1v5.1h-5.1Z"/>
<path d="M214.8 468.4h5.1v5.1h-5.1Z"/>
<path d="M213.3 466.9h5.1v5.1h-5.1Z"/>
<path d="M215.1 465.7h5.1v5.1h-5.1Z"/>
<path d="M215.9 465.1h5.1v5.1h-5.1Z"/>
<path d="M215.1 464.1h5.1v5.1h-5.1Z"/>
<path d="M216.6 463.3h5.1v5.1h-5.1Z"/>
<path d="M215.4 462.8h5.1v5.1h-5.1Z"/>
<path d="M215 462.1h5.1v5.1h-5.1Z"/>
<path d="M217.7 460.7h5.1v5.1h-5.1Z"/>
<path d="M215.3 459.7h5.1v5.1h-5.1Z"/>
<path d="M216.4 459.8h5.1v5.1h-5.1Z"/>
<path d="M217.1 458.2h5.1v5.1h-5.1Z"/>
<path d="M218.3 457.9h5.1v5.1h-5.1Z"/>
<path d="M216.3 456h5.1v5.1h-5.1Z"/>
<path d="M218.3 455.2h5.1v5.1h-5.1Z"/>
<path d="M215.8 455.5h5.1v5.1h-5.1Z"/>
<path d="M217.9 454.3h5.1v5.1h-5.1Z"/>
<path d="M218.7 453.9h5.1v5.1h-5.1Z"/>
<path d="M218.2 452.2h5.1v5.1h-5.1Z"/>
<path d="M218.5 451.4h5.1v5.1h-5.1Z"/>
<path d="M220.3 450.9h5.1v5.1h-5.1Z"/>
<path d="M220.5 450.7h5.1v5.1h-5.1Z"/>
<path d="M219.8 449.4h5.1v5.1h-5.1Z"/>
<path d="M217.4 448.5h5.1v5.1h-5.1Z"/>
<path d="M221.1 448.2h5.1v5.1h-5.1Z"/>
<path d="M218.8 448.2h5.1v5.1h-5.1Z"/>
<path d="M218.3 446.4h5.1v5.1h-5.1Z"/>
<path d="M220.3 444.6h5.1v5.1h-5.1Z"/>
<path d="M221.3 444.7h5.1v5.1h-5.1Z"/>
<path d="M220 443.8h5.1v5.1h-5.1Z"/>
<path d="M220.3 442.7h5.1v5.1h-5.1Z"/>
<path d="M221.4 442.6h5.1v5.1h-5.1Z"/>
<path d="M221.9 441.5h5.1v5.1h-5.1Z"/>
<path d="M222.7 440.1h5.1v5.1h-5.1Z"/>
<path d="M222.2 440.4h5.1v5.1h-5.1Z"/>
<path d="M221.3 439.4h5.1v5.1h-5.1Z"/>
<path d="M221.5 437.9h5.1v5.1h-5.1Z"/>
<path d="M223.3 437.4h5.1v5.1h-5.1Z"/>
<path d="M224 437.3h5.1v5.1h-5.1Z"/>
<path d="M222.8 436.4h5.1v5.1h-5.1Z"/>
<path d="M221.4 435.3h5.1v5.1h-5.1Z"/>
<path d="M223.2 435.1h5.1v5.1h-5.1Z"/>
<path d="M224.3 433.4h5.1v5.1h-5.1Z"/>
<path d="M223.7 432.5h5.1v5.1h-5.1Z"/>
<path d="M223.2 431.3h5.1v5.1h-5.1Z"/>
<path d="M224.7 430.8h5.1v5.1h-5.1Z"/>
<path d="M226.1 429.1h5.1v5.1h-5.1Z"/>
<path d="M225.2 429.5h5.1v5.1h-5.1Z"/>
<path d="M226.3 428h5.1v5.1h-5.1Z"/>
<path d="M225.4 427.3h5.1v5.1h-5.1Z"/>
<path d="M227 427.2h5.1v5.1h-5.1Z"/>
<path d="M227.1 425.7h5.1v5.1h-5.1Z"/>
<path d="M226.9 425.7h5.1v5.1h-5.1Z"/>
<path d="M226.6 424.6h5.1v5.1h-5.1Z"/>
<path d="M228.5 424h5.1v5.1h-5.1Z"/>
<path d="M226.4 422.2h5.1v5.1h-5.1Z"/>
<path d="M226.7 422h5.1v5.1h-5.1Z"/>
<path d="M227.9 421.3h5.1v5.1h-5.1Z"/>
<path d="M228.4 421.1h5.1v5.1h-5.1Z"/>
<path d="M230.1 420h5.1v5.1h-5.1Z"/>
<path d="M230.6 418.6h5.1v5.1h-5.1Z"/>
<path d="M230.1 417.8h5.1v5.1h-5.1Z"/>
<path d="M228.3 416.9h5.1v5.1h-5.1Z"/>
<path d="M230.6 416.6h5.1v5.1h-5.1Z"/>
<path d="M230.1 415.1h5.1v5.1h-5.1Z"/>
<path d="M229.7 415.1h5.1v5.1h-5.1Z"/>
<path d="M231.1 414.5h5.1v5.1h-5.1Z"/>
<path d="M233.5 412.8h5.1v5.1h-5.1Z"/>
<path d="M233.2 412.1h5.1v5.1h-5.1Z"/>
<path d="M231.7 411.4h5.1v5.1h-5.1Z"/>
<path d="M233.7 411.1h5.1v5.1h-5.1Z"/>
<path d="M232.4 411.3h5.1v5.1h-5.1Z"/>
<path d="M233.3 409h5.1v5.1h-5.1Z"/>
<path d="M234.5 408.5h5.1v5.1h-5.1Z"/>
<path d="M233.5 408h5.1v5.1h-5.1Z"/>
<path d="M232.1 406.9h5.1v5.1h-5.1Z"/>
<path d="M234.4 406.3h5.1v5.1h-5.1Z"/>
<path d="M233.6 406.6h5.1v5.1h-5.1Z"/>
<path d="M233.9 405.1h5.1v5.1h-5.1Z"/>
<path d="M235 404.2h5.1v5.1h-5.1Z"/>
<path d="M235 402.9h5.1v5.1h-5.1Z"/>
<path d="M235.4 402.7h5.1v5.1h-5.1Z"/>
<path d="M238 400.9h5.1v5.1h-5.1Z"/>
<path d="M235.3 400h5.1v5.1h-5.1Z"/>
<path d="M235.8 399.9h5.1v5.1h-5.1Z"/>
<path d="M236.6 399h5.1v5.1h-5.1Z"/>
<path d="M236.4 397.8h5.1v5.1h-5.1Z"/>
<path d="M237.2 397.3h5.1v5.1h-5.1Z"/>
<path d="M237.3 395.5h5.1v5.1h-5.1Z"/>
<path d="M240.7 395.6h5.1v5.1h-5.1Z"/>
<path d="M236.9 394.7h5.1v5.1h-5.1Z"/>
<path d="M235.3 393.8h5.1v5.1h-5.1Z"/>
<path d="M240.4 393.7h5.1v5.1h-5.1Z"/>
<path d="M241.8 393.6h5.1v5.1h-5.1Z"/>
<path d="M238.5 390.6h5.1v5.1h-5.1Z"/>
<path d="M238.5 391h5.1v5.1h-5.1Z"/>
<path d="M241 389.5h5.1v5.1h-5.1Z"/>
<path d="M243 389.1h5.1v5.1h-5.1Z"/>
<path d="M238.6 388.6h5.1v5.1h-5.1Z"/>
<path d="M236.6 387.5h5.1v5.1h-5.1Z"/>
<path d="M241.4 386.7h5.1v5.1h-5.1Z"/>
<path d="M243.7 386.7h5.1v5.1h-5.1Z"/>
<path d="M242.8 384.8h5.1v5.1h-5.1Z"/>
<path d="M241.7 384.4h5.1v5.1h-5.1Z"/>
<path d="M239.7 383.7h5.1v5.1h-5.1Z"/>
<path d="M238.7 383.1h5.1v5.1h-5.1Z"/>
<path d="M238.8 381.6h5.1v5.1h-5.1Z"/>
<path d="M245.9 381.6h5.1v5.1h-5.1Z"/>
<path d="M243.7 379.7h5.1v5.1h-5.1Z"/>
<path d="M245.5 379.1h5.1v5.1h-5.1Z"/>
<path d="M244.2 379h5.1v5.1h-5.1Z"/>
<path d="M247.6 378.4h5.1v5.1h-5.1Z"/>
<path d="M243.6 376.7h5.1v5.1h-5.1Z"/>
<path d="M247.5 375.7h5.1v5.1h-5.1Z"/>
<path d="M240.5 374.5h5.1v5.1h-5.1Z"/>
<path d="M249 374.6h5.1v5.1h-5.1Z"/>
<path d="M243.6 373.6h5.1v5.1h-5.1Z"/>
<path d="M245.9 372.6h5.1v5.1h-5.1Z"/>
<path d="M244.7 372.6h5.1v5.1h-5.1Z"/>
<path d="M246.7 371.8h5.1v5.1h-5.1Z"/>
<path d="M247 370.8h5.1v5.1h-5.1Z"/>
<path d="M245 370.9h5.1v5.1h-5.1Z"/>
<path d="M245.5 369.5h5.1v5.1h-5.1Z"/>
<path d="M240.5 376.5h5.1v5.1h-5.1Z"/>
<path d="M240.2 374.7h5.1v5.1h-5.1Z"/>
<path d="M240.4 373.7h5.1v5.1h-5.1Z"/>
<path d="M241.8 372.1h5.1v5.1h-5.1Z"/>
<path d="M242.1 370.4h5.1v5.1h-5.1Z"/>
<path d="M241.7 370.1h5.1v5.1h-5.1Z"/>
<path d="M242.6 368.2h5.1v5.1h-5.1Z"/>
<path d="M243 367.2h5.1v5.1h-5.1Z"/>
<path d="M243 365.9h5.1v5.1h-5.1Z"/>
<path d="M242.7 364.3h5.1v5.1h-5.1Z"/>
<path d="M244.1 362.5h5.1v5.1h-5.1Z"/>
<path d="M244.4 361.6h5.1v5.1h-5.1Z"/>
<path d="M244 361h5.1v5.1h-5.1Z"/>
<path d="M245.3 359h5.1v5.1h-5.1Z"/>
<path d="M248.5 368.5h5.1v5.1h-5.1Z"/>
<path d="M249.2 367.1h5.1v5.1h-5.1Z"/>
<path d="M249.6 366.2h5.1v5.1h-5.1Z"/>
<path d="M250 366.1h5.1v5.1h-5.1Z"/>
<path d="M250.7 364.1h5.1v5.1h-5.1Z"/>
<path d="M251.9 364.5h5.1v5.1h-5.1Z"/>
<path d="M252.3 363.3h5.1v5.1h-5.1Z"/>
<path d="M253.2 362.1h5.1v5.1h-5.1Z"/>
<path d="M253.5 362.1h5.1v5.1h-5.1Z"/>
<path d="M253.5 360.7h5.1v5.1h-5.1Z"/>
<path d="M255.7 359.5h5.1v5.1h-5.1Z"/>
<path d="M254.5 358.2h5.1v5.1h-5.1Z"/>
<path d="M256.5 358.8h5.1v5.1h-5.1Z"/>
<path d="M254.9 356h5.1v5.1h-5.1Z"/>
<path d="M257.3 355.4h5.1v5.1h-5.1Z"/>
<path d="M257.7 354.5h5.1v5.1h-5.1Z"/>
<path d="M257.2 354.2h5.1v5.1h-5.1Z"/>
<path d="M259.4 353.9h5.1v5.1h-5.1Z"/>
<path d="M258.3 352.4h5.1v5.1h-5.1Z"/>
<path d="M259 351.2h5.1v5.1h-5.1Z"/>
<path d="M258.1 350h5.1v5.1h-5.1Z"/>
<path d="M259.9 349h5.1v5.1h-5.1Z"/>
<path d="M259.5 347.6h5.1v5.1h-5.1Z"/>
<path d="M260 346.8h5.1v5.1h-5.1Z"/>
<path d="M261.8 347.1h5.1v5.1h-5.1Z"/>
<path d="M263 345.6h5.1v5.1h-5.1Z"/>
<path d="M262.1 344.3h5.1v5.1h-5.1Z"/>
<path d="M265 343.9h5.1v5.1h-5.1Z"/>
<path d="M262.1 342h5.1v5.1h-5.1Z"/>
<path d="M264.8 342h5.1v5.1h-5.1Z"/>
<path d="M263.6 340.6h5.1v5.1h-5.1Z"/>
<path d="M266.8 340.9h5.1v5.1h-5.1Z"/>
<path d="M267.8 340.7h5.1v5.1h-5.1Z"/>
<path d="M266.9 337.6h5.1v5.1h-5.1Z"/>
<path d="M266.3 336.7h5.1v5.1h-5.1Z"/>
<path d="M267 335.6h5.1v5.1h-5.1Z"/>
<path d="M268.3 336.5h5.1v5.1h-5.1Z"/>
<path d="M270.3 336.6h5.1v5.1h-5.1Z"/>
<path d="M271.6 334.6h5.1v5.1h-5.1Z"/>
<path d="M272.3 334.1h5.1v5.1h-5.1Z"/>
<path d="M272.5 333.2h5.1v5.1h-5.1Z"/>
<path d="M273.1 332.2h5.1v5.1h-5.1Z"/>
<path d="M271.6 330.6h5.1v5.1h-5.1Z"/>
<path d="M274 331.1h5.1v5.1h-5.1Z"/>
<path d="M273.3 328.2h5.1v5.1h-5.1Z"/>
<path d="M273.7 328.1h5.1v5.1h-5.1Z"/>
<path d="M275.6 327.1h5.1v5.1h-5.1Z"/>
<path d="M275.3 326.1h5.1v5.1h-5.1Z"/>
<path d="M278.6 327.7h5.1v5.1h-5.1Z"/>
<path d="M277.1 325.1h5.1v5.1h-5.1Z"/>
<path d="M277.5 323h5.1v5.1h-5.1Z"/>
<path d="M278.2 322h5.1v5.1h-5.1Z"/>
<path d="M279.1 321.7h5.1v5.1h-5.1Z"/>
<path d="M280.4 321.3h5.1v5.1h-5.1Z"/>
<path d="M281.5 321.5h5.1v5.1h-5.1Z"/>
<path d="M282.2 320.9h5.1v5.1h-5.1Z"/>
<path d="M283.3 319.7h5.1v5.1h-5.1Z"/>
<path d="M284.3 319.4h5.1v5.1h-5.1Z"/>
<path d="M285.2 317.8h5.1v5.1h-5.1Z"/>
<path d="M286 317.4h5.1v5.1h-5.1Z"/>
<path d="M287.8 316.7h5.1v5.1h-5.1Z"/>
<path d="M288.1 315.9h5.1v5.1h-5.1Z"/>
<path d="M289.1 315h5.1v5.1h-5.1Z"/>
<path d="M290.1 314.4h5.1v5.1h-5.1Z"/>
<path d="M291.6 312.7h5.1v5.1h-5.1Z"/>
<path d="M292.1 312.6h5.1v5.1h-5.1Z"/>
<path d="M292.5 311.6h5.1v5.1h-5.1Z"/>
<path d="M294.1 310.9h5.1v5.1h-5.1Z"/>
<path d="M296.1 309.9h5.1v5.1h-5.1Z"/>
<path d="M296.4 309.9h5.1v5.1h-5.1Z"/>
<path d="M297.4 309.4h5.1v5.1h-5.1Z"/>
<path d="M298.7 308.2h5.1v5.1h-5.1Z"/>
<path d="M299.8 307.9h5.1v5.1h-5.1Z"/>
<path d="M301.6 307.5h5.1v5.1h-5.1Z"/>
<path d="M302.6 306.5h5.1v5.1h-5.1Z"/>
<path d="M303.7 305.9h5.1v5.1h-5.1Z"/>
<path d="M305.2 305.8h5.1v5.1h-5.1Z"/>
<path d="M305.9 306.1h5.1v5.1h-5.1Z"/>
<path d="M306 304.4h5.1v5.1h-5.1Z"/>
<path d="M307.7 304.4h5.1v5.1h-5.1Z"/>
<path d="M308.4 303.3h5.1v5.1h-5.1Z"/>
<path d="M310.4 302.8h5.1v5.1h-5.1Z"/>
<path d="M311.7 302h5.1v5.1h-5.1Z"/>
<path d="M313.6 302.3h5.1v5.1h-5.1Z"/>
<path d="M314.4 301.2h5.1v5.1h-5.1Z"/>
<path d="M316.1 302.2h5.1v5.1h-5.1Z"/>
<path d="M316.1 300.8h5.1v5.1h-5.1Z"/>
<path d="M317.6 301.1h5.1v5.1h-5.1Z"/>
<path d="M319.6 300.1h5.1v5.1h-5.1Z"/>
<path d="M320.1 300.4h5.1v5.1h-5.1Z"/>
<path d="M321.2 299.4h5.1v5.1h-5.1Z"/>
<path d="M322.7 299.9h5.1v5.1h-5.1Z"/>
<path d="M323.9 299.2h5.1v5.1h-5.1Z"/>
<path d="M324.9 298.6h5.1v5.1h-5.1Z"/>
<path d="M326.4 299.3h5.1v5.1h-5.1Z"/>
<path d="M327.9 299h5.1v5.1h-5.1Z"/>
<path d="M328.9 298.5h5.1v5.1h-5.1Z"/>
<path d="M329.3 297.3h5.1v5.1h-5.1Z"/>
<path d="M331.1 296.7h5.1v5.1h-5.1Z"/>
<path d="M332.3 296.1h5.1v5.1h-5.1Z"/>
<path d="M333.6 296h5.1v5.1h-5.1Z"/>
<path d="M334.9 295.9h5.1v5.1h-5.1Z"/>
<path d="M335.7 295.6h5.1v5.1h-5.1Z"/>
<path d="M337.5 295.5h5.1v5.1h-5.1Z"/>
<path d="M337.5 295.5h5.1v5.1h-5.1Z"/>
<path d="M338.9 295.2h5.1v5.1h-5.1Z"/>
<path d="M340.4 295h5.1v5.1h-5.1Z"/>
<path d="M341.7 294.7h5.1v5.1h-5.1Z"/>
<path d="M343.4 294.7h5.1v5.1h-5.1Z"/>
<path d="M345.1 294.7h5.1v5.1h-5.1Z"/>
<path d="M345.9 294.8h5.1v5.1h-5.1Z"/>
<path d="M347.9 294.8h5.1v5.1h-5.1Z"/>
<path d="M348.7 294.7h5.1v5.1h-5.1Z"/>
<path d="M350.2 294.7h5.1v5.1h-5.1Z"/>
<path d="M352.1 294.8h5.1v5.1h-5.1Z"/>
<path d="M353.3 294.9h5.1v5.1h-5.1Z"/>
<path d="M354.9 295h5.1v5.1h-5.1Z"/>
<path d="M356.3 295.1h5.1v5.1h-5.1Z"/>
<path d="M357.4 295.1h5.1v5.1h-5.1Z"/>
<path d="M359.2 295.3h5.1v5.1h-5.1Z"/>
<path d="M360.8 295.4h5.1v5.1h-5.1Z"/>
<path d="M362.4 295.6h5.1v5.1h-5.1Z"/>
<path d="M363.3 295.6h5.1v5.1h-5.1Z"/>
<path d="M365.3 295.8h5.1v5.1h-5.1Z"/>
<path d="M366.5 296h5.1v5.1h-5.1Z"/>
<path d="M368 296h5.1v5.1h-5.1Z"/>
<path d="M375.2 296.8h5.1v5.1h-5.1Z"/>
<path d="M380.8 297.1h5.1v5.1h-5.1Z"/>
<path d="M390.5 297.8h5.1v5.1h-5.1Z"/>
<path d="M399.9 299.2h5.1v5.1h-5.1Z"/>
<path d="M412.2 301.6h5.1v5.1h-5.1Z"/>
</g></g>
<g class="series-c12">
<path d="M211.5 492.5L215.1 491.8L211.5 491.1L213.6 489.5L215 488.4L214.8 487L217.9 486.7L218.4 485.5L216.2 484.9L218.2 482.6L214.9 481.8L215 480.9L217.9 479.7L218.7 479.7L213.9 477.8L216.9 477.2L219.7 476.6L219.9 475.3L223.1 475.4L220.4 473.3L222.2 471.4L222.3 470.6L219.6 470.3L219 469.2L221.5 468.7L223.9 466.7L221.5 466.3L225.9 465.4L223.6 464.9L225.9 463.8L224.3 462.9L226.7 462.1L225.9 460.8L226.3 458.9L225.5 458.1L229.4 456.3L225.8 455.9L228.2 455.6L229.4 454L225.4 452.9L226.2 452L227.9 449.9L230.9 449.5L226.8 448.1L227.2 447.4L228.1 446.7L228.8 445.9L228.2 444.5L228.7 443.3L231.4 442.4L229.4 440.7L231.4 439.4L230.2 438.3L232.5 438.1L233.7 437.5L233.6 436.1L233 435.2L232.5 434.6L233.7 433.3L235.6 432.1L231.4 431.6L234.1 430.9L236.8 429L239.2 427.9L234.2 426.9L235.9 426.4L234.8 424.2L237.5 424.6L235.3 422.6L235.8 422.1L240 421.1L241.3 419.9L237.9 418.3L240.4 417.2L240 417.1L243.1 415.9L240 413.5L239.5 413.5L242.5 412.6L243.6 411.4L241.1 410.2L243.2 409.4L244 408.2L244.1 406.9L244.4 407.2L244.4 405.8L246.7 404.5L243.9 403.7L244.4 401.9L245 400.8L244.6 400.8L248.3 399.9L247.4 398.5L247.2 397.5L248.2 396.5L250.2 395.4L251 394.7L248.3 393.9L249.7 391.9L252 392L251.4 391.4L251.9 389.4L252.1 388.7L252.4 387.7L253.5 387L254.4 385.5L253.8 384.7L254.8 383L255.2 383.5L256 382L255.2 381.7L256.5 380.6L255.9 379.7L256.7 378.3L257.5 376.8L257.9 376L259.2 375.2L259.1 374.8L260.7 372.5L260.4 372.4L262.6 370.9L261.6 370L261.4 369.4L262.7 369.4L263 368.1L264.1 366.1L264.6 366L264.7 365.2L266.8 362.6L265.6 362.9L265.8 362L266.5 361.7L268.6 359.3L268.3 359.4L269.8 358L269.2 357.4L270.9 356.4L270.4 356.3L271.7 354.3L271.6 354.5L272.9 352.9L275.2 351.6L274.9 351.2L274.8 350.8L275.2 350.1L276.9 349L277.6 347.3L279.6 346.3L279.9 345.9L279.2 345.3" fill="none" stroke="#000" stroke-width="0.6"/>
<g fill="#fff" fill-opacity="0.2" stroke="#000" stroke-width="0.9">
<path d="M208.9 492.5L211.5 489.6L214.1 492.5L211.5 495.4Z"/>
<path d="M212.5 491.8L215.1 488.9L217.8 491.8L215.1 494.7Z"/>
<path d="M208.9 491.1L211.5 488.2L214.1 491.1L211.5 494Z"/>
<path d="M211 489.5L213.6 486.6L216.3 489.5L213.6 492.4Z"/>
<path d="M212.4 488.4L215 485.5L217.6 488.4L215 491.3Z"/>
<path d="M212.2 487L214.8 484.1L217.5 487L214.8 489.9Z"/>
<path d="M215.2 486.7L217.9 483.8L220.5 486.7L217.9 489.6Z"/>
<path d="M215.8 485.5L218.4 482.6L221.1 485.5L218.4 488.4Z"/>
<path d="M213.5 484.9L216.2 482L218.8 484.9L216.2 487.8Z"/>
<path d="M215.5 482.6L218.2 479.7L220.8 482.6L218.2 485.5Z"/>
<path d="M212.3 481.8L214.9 478.9L217.6 481.8L214.9 484.7Z"/>
<path d="M212.3 480.9L215 478L217.6 480.9L215 483.8Z"/>
<path d="M215.3 479.7L217.9 476.8L220.6 479.7L217.9 482.6Z"/>
<path d="M216 479.7L218.7 476.8L221.3 479.7L218.7 482.6Z"/>
<path d="M211.2 477.8L213.9 474.9L216.5 477.8L213.9 480.7Z"/>
<path d="M214.2 477.2L216.9 474.3L219.5 477.2L216.9 480.1Z"/>
<path d="M217.1 476.6L219.7 473.8L222.4 476.6L219.7 479.5Z"/>
<path d="M217.2 475.3L219.9 472.4L222.5 475.3L219.9 478.2Z"/>
<path d="M220.4 475.4L223.1 472.5L225.7 475.4L223.1 478.3Z"/>
<path d="M217.8 473.3L220.4 470.4L223 473.3L220.4 476.2Z"/>
<path d="M219.6 471.4L222.2 468.5L224.9 471.4L222.2 474.2Z"/>
<path d="M219.7 470.6L222.3 467.7L224.9 470.6L222.3 473.5Z"/>
<path d="M217 470.3L219.6 467.4L222.2 470.3L219.6 473.2Z"/>
<path d="M216.3 469.2L219 466.3L221.6 469.2L219 472.1Z"/>
<path d="M218.9 468.7L221.5 465.8L224.1 468.7L221.5 471.5Z"/>
<path d="M221.2 466.7L223.9 463.8L226.5 466.7L223.9 469.6Z"/>
<path d="M218.9 466.3L221.5 463.4L224.1 466.3L221.5 469.2Z"/>
<path d="M223.3 465.4L225.9 462.5L228.5 465.4L225.9 468.3Z"/>
<path d="M221 464.9L223.6 462L226.2 464.9L223.6 467.8Z"/>
<path d="M223.3 463.8L225.9 460.9L228.6 463.8L225.9 466.6Z"/>
<path d="M221.6 462.9L224.3 460L226.9 462.9L224.3 465.7Z"/>
<path d="M224 462.1L226.7 459.2L229.3 462.1L226.7 465Z"/>
<path d="M223.2 460.8L225.9 457.9L228.5 460.8L225.9 463.7Z"/>
<path d="M223.7 458.9L226.3 456L229 458.9L226.3 461.8Z"/>
<path d="M222.9 458.1L225.5 455.2L228.1 458.1L225.5 460.9Z"/>
<path d="M226.7 456.3L229.4 453.4L232 456.3L229.4 459.2Z"/>
<path d="M223.2 455.9L225.8 453L228.5 455.9L225.8 458.8Z"/>
<path d="M225.6 455.6L228.2 452.7L230.8 455.6L228.2 458.5Z"/>
<path d="M226.7 454L229.4 451.1L232 454L229.4 456.9Z"/>
<path d="M222.8 452.9L225.4 450L228.1 452.9L225.4 455.8Z"/>
<path d="M223.6 452L226.2 449.1L228.9 452L226.2 454.9Z"/>
<path d="M225.3 449.9L227.9 447L230.6 449.9L227.9 452.8Z"/>
<path d="M228.2 449.5L230.9 446.6L233.5 449.5L230.9 452.4Z"/>
<path d="M224.2 448.1L226.8 445.3L229.5 448.1L226.8 451Z"/>
<path d="M224.5 447.4L227.2 444.5L229.8 447.4L227.2 450.3Z"/>
<path d="M225.5 446.7L228.1 443.8L230.8 446.7L228.1 449.6Z"/>
<path d="M226.2 445.9L228.8 443L231.4 445.9L228.8 448.8Z"/>
<path d="M225.6 444.5L228.2 441.6L230.8 444.5L228.2 447.4Z"/>
<path d="M226.1 443.3L228.7 440.4L231.3 443.3L228.7 446.2Z"/>
<path d="M228.8 442.4L231.4 439.5L234.1 442.4L231.4 445.3Z"/>
<path d="M226.7 440.7L229.4 437.8L232 440.7L229.4 443.6Z"/>
<path d="M228.7 439.4L231.4 436.5L234 439.4L231.4 442.3Z"/>
<path d="M227.6 438.3L230.2 435.4L232.9 438.3L230.2 441.2Z"/>
<path d="M229.9 438.1L232.5 435.2L235.1 438.1L232.5 441Z"/>
<path d="M231.1 437.5L233.7 434.6L236.4 437.5L233.7 440.4Z"/>
<path d="M230.9 436.1L233.6 433.2L236.2 436.1L233.6 439Z"/>
<path d="M230.4 435.2L233 432.3L235.6 435.2L233 438.1Z"/>
<path d="M229.9 434.6L232.5 431.7L235.2 434.6L232.5 437.5Z"/>
<path d="M231.1 433.3L233.7 430.4L236.4 433.3L233.7 436.2Z"/>
<path d="M233 432.1L235.6 429.3L238.2 432.1L235.6 435Z"/>
<path d="M228.8 431.6L231.4 428.7L234 431.6L231.4 434.5Z"/>
<path d="M231.4 430.9L234.1 428L236.7 430.9L234.1 433.8Z"/>
<path d="M234.1 429L236.8 426.1L239.4 429L236.8 431.9Z"/>
<path d="M236.6 427.9L239.2 425L241.8 427.9L239.2 430.8Z"/>
<path d="M231.5 426.9L234.2 424L236.8 426.9L234.2 429.8Z"/>
<path d="M233.3 426.4L235.9 423.6L238.6 426.4L235.9 429.3Z"/>
<path d="M232.2 424.2L234.8 421.3L237.4 424.2L234.8 427.1Z"/>
<path d="M234.9 424.6L237.5 421.7L240.2 424.6L237.5 427.5Z"/>
<path d="M232.6 422.6L235.3 419.7L237.9 422.6L235.3 425.5Z"/>
<path d="M233.2 422.1L235.8 419.2L238.4 422.1L235.8 425Z"/>
<path d="M237.4 421.1L240 418.2L242.7 421.1L240 424Z"/>
<path d="M238.7 419.9L241.3 417L244 419.9L241.3 422.8Z"/>
<path d="M235.3 418.3L237.9 415.5L240.6 418.3L237.9 421.2Z"/>
<path d="M237.8 417.2L240.4 414.3L243.1 417.2L240.4 420.1Z"/>
<path d="M237.4 417.1L240 414.2L242.7 417.1L240 420Z"/>
<path d="M240.4 415.9L243.1 413L245.7 415.9L243.1 418.8Z"/>
<path d="M237.4 413.5L240 410.6L242.6 413.5L240 416.4Z"/>
<path d="M236.9 413.5L239.5 410.7L242.1 413.5L239.5 416.4Z"/>
<path d="M239.8 412.6L242.5 409.7L245.1 412.6L242.5 415.5Z"/>
<path d="M241 411.4L243.6 408.5L246.2 411.4L243.6 414.3Z"/>
<path d="M238.5 410.2L241.1 407.3L243.7 410.2L241.1 413.1Z"/>
<path d="M240.6 409.4L243.2 406.5L245.9 409.4L243.2 412.2Z"/>
<path d="M241.4 408.2L244 405.3L246.6 408.2L244 411.1Z"/>
<path d="M241.4 406.9L244.1 404L246.7 406.9L244.1 409.8Z"/>
<path d="M241.7 407.2L244.4 404.3L247 407.2L244.4 410.1Z"/>
<path d="M241.8 405.8L244.4 402.9L247.1 405.8L244.4 408.7Z"/>
<path d="M244.1 404.5L246.7 401.6L249.3 404.5L246.7 407.4Z"/>
<path d="M241.2 403.7L243.9 400.8L246.5 403.7L243.9 406.6Z"/>
<path d="M241.8 401.9L244.4 399L247 401.9L244.4 404.8Z"/>
<path d="M242.3 400.8L245 397.9L247.6 400.8L245 403.7Z"/>
<path d="M241.9 400.8L244.6 397.9L247.2 400.8L244.6 403.7Z"/>
<path d="M245.7 399.9L248.3 397L250.9 399.9L248.3 402.8Z"/>
<path d="M244.8 398.5L247.4 395.6L250 398.5L247.4 401.4Z"/>
<path d="M244.5 397.5L247.2 394.6L249.8 397.5L247.2 400.4Z"/>
<path d="M245.6 396.5L248.2 393.6L250.8 396.5L248.2 399.4Z"/>
<path d="M247.6 395.4L250.2 392.6L252.9 395.4L250.2 398.3Z"/>
<path d="M248.3 394.7L251 391.8L253.6 394.7L251 397.6Z"/>
<path d="M245.7 393.9L248.3 391L250.9 393.9L248.3 396.8Z"/>
<path d="M247.1 391.9L249.7 389L252.4 391.9L249.7 394.8Z"/>
<path d="M249.4 392L252 389.1L254.6 392L252 394.9Z"/>
<path d="M248.8 391.4L251.4 388.5L254 391.4L251.4 394.3Z"/>
<path d="M249.3 389.4L251.9 386.5L254.6 389.4L251.9 392.3Z"/>
<path d="M249.5 388.7L252.1 385.8L254.8 388.7L252.1 391.6Z"/>
<path d="M249.7 387.7L252.4 384.8L255 387.7L252.4 390.6Z"/>
<path d="M250.8 387L253.5 384.1L256.1 387L253.5 389.9Z"/>
<path d="M251.8 385.5L254.4 382.6L257.1 385.5L254.4 388.3Z"/>
<path d="M251.2 384.7L253.8 381.9L256.4 384.7L253.8 387.6Z"/>
<path d="M252.2 383L254.8 380.1L257.5 383L254.8 385.9Z"/>
<path d="M252.5 383.5L255.2 380.7L257.8 383.5L255.2 386.4Z"/>
<path d="M253.4 382L256 379.1L258.6 382L256 384.9Z"/>
<path d="M252.6 381.7L255.2 378.8L257.8 381.7L255.2 384.5Z"/>
<path d="M253.9 380.6L256.5 377.7L259.2 380.6L256.5 383.5Z"/>
<path d="M253.3 379.7L255.9 376.8L258.6 379.7L255.9 382.6Z"/>
<path d="M254 378.3L256.7 375.4L259.3 378.3L256.7 381.1Z"/>
<path d="M254.9 376.8L257.5 373.9L260.1 376.8L257.5 379.7Z"/>
<path d="M255.3 376L257.9 373.1L260.5 376L257.9 378.9Z"/>
<path d="M256.6 375.2L259.2 372.3L261.9 375.2L259.2 378.1Z"/>
<path d="M256.4 374.8L259.1 371.9L261.7 374.8L259.1 377.7Z"/>
<path d="M258 372.5L260.7 369.7L263.3 372.5L260.7 375.4Z"/>
<path d="M257.8 372.4L260.4 369.5L263.1 372.4L260.4 375.3Z"/>
<path d="M260 370.9L262.6 368L265.3 370.9L262.6 373.8Z"/>
<path d="M259 370L261.6 367.1L264.3 370L261.6 372.9Z"/>
<path d="M258.8 369.4L261.4 366.5L264 369.4L261.4 372.3Z"/>
<path d="M260 369.4L262.7 366.5L265.3 369.4L262.7 372.3Z"/>
<path d="M260.4 368.1L263 365.2L265.6 368.1L263 371Z"/>
<path d="M261.4 366.1L264.1 363.2L266.7 366.1L264.1 369Z"/>
<path d="M261.9 366L264.6 363.1L267.2 366L264.6 368.8Z"/>
<path d="M262.1 365.2L264.7 362.4L267.4 365.2L264.7 368.1Z"/>
<path d="M264.1 362.6L266.8 359.7L269.4 362.6L266.8 365.5Z"/>
<path d="M262.9 362.9L265.6 360L268.2 362.9L265.6 365.8Z"/>
<path d="M263.2 362L265.8 359.1L268.5 362L265.8 364.8Z"/>
<path d="M263.9 361.7L266.5 358.8L269.2 361.7L266.5 364.6Z"/>
<path d="M265.9 359.3L268.6 356.4L271.2 359.3L268.6 362.2Z"/>
<path d="M265.6 359.4L268.3 356.5L270.9 359.4L268.3 362.3Z"/>
<path d="M267.1 358L269.8 355.1L272.4 358L269.8 360.9Z"/>
<path d="M266.6 357.4L269.2 354.5L271.8 357.4L269.2 360.3Z"/>
<path d="M268.2 356.4L270.9 353.5L273.5 356.4L270.9 359.3Z"/>
<path d="M267.8 356.3L270.4 353.4L273.1 356.3L270.4 359.1Z"/>
<path d="M269.1 354.3L271.7 351.4L274.4 354.3L271.7 357.2Z"/>
<path d="M269 354.5L271.6 351.6L274.3 354.5L271.6 357.4Z"/>
<path d="M270.2 352.9L272.9 350L275.5 352.9L272.9 355.8Z"/>
<path d="M272.6 351.6L275.2 348.7L277.8 351.6L275.2 354.5Z"/>
<path d="M272.3 351.2L274.9 348.4L277.5 351.2L274.9 354.1Z"/>
<path d="M272.1 350.8L274.8 347.9L277.4 350.8L274.8 353.7Z"/>
<path d="M272.6 350.1L275.2 347.2L277.9 350.1L275.2 353Z"/>
<path d="M274.3 349L276.9 346.1L279.5 349L276.9 351.9Z"/>
<path d="M275 347.3L277.6 344.4L280.3 347.3L277.6 350.2Z"/>
<path d="M277 346.3L279.6 343.5L282.2 346.3L279.6 349.2Z"/>
<path d="M277.3 345.9L279.9 343L282.5 345.9L279.9 348.7Z"/>
<path d="M276.6 345.3L279.2 342.4L281.8 345.3L279.2 348.2Z"/>
</g></g>
<g class="series-c12">
<path d="M279 345.3L281 344L282 343.2L283.6 342.1L285.7 341L286.8 340.4L288.7 339.2L290.6 338.1L292 337.3L296.4 335.3L300.9 333.7L306.1 332.1L310.5 330.9L315.6 330.1L320.6 329.1L325.3 328.3L329.9 327.7L335.1 327.2L340 327.1L344 327L349.6 327L356 327.1L363.2 327.4L370.2 327.7L378.5 328.2L388.5 330.1L400.6 331.1L412.3 332.2L422.3 333" fill="none" stroke="#000" stroke-width="0.6"/>
<g fill="#fff" stroke="#000" stroke-width="0.9">
<path d="M276.2 345.3L279 342.2L281.8 345.3L279 348.4Z"/>
<path d="M278.2 344L281 340.9L283.7 344L281 347Z"/>
<path d="M279.2 343.2L282 340.2L284.8 343.2L282 346.3Z"/>
<path d="M280.9 342.1L283.6 339L286.4 342.1L283.6 345.1Z"/>
<path d="M282.9 341L285.7 337.9L288.5 341L285.7 344Z"/>
<path d="M284.1 340.4L286.8 337.3L289.6 340.4L286.8 343.4Z"/>
<path d="M286 339.2L288.7 336.1L291.5 339.2L288.7 342.2Z"/>
<path d="M287.8 338.1L290.6 335L293.4 338.1L290.6 341.1Z"/>
<path d="M289.2 337.3L292 334.2L294.8 337.3L292 340.4Z"/>
<path d="M293.6 335.3L296.4 332.2L299.2 335.3L296.4 338.3Z"/>
<path d="M298.1 333.7L300.9 330.7L303.7 333.7L300.9 336.8Z"/>
<path d="M303.3 332.1L306.1 329.1L308.9 332.1L306.1 335.2Z"/>
<path d="M307.7 330.9L310.5 327.8L313.3 330.9L310.5 334Z"/>
<path d="M312.9 330.1L315.6 327.1L318.4 330.1L315.6 333.2Z"/>
<path d="M317.8 329.1L320.6 326.1L323.3 329.1L320.6 332.2Z"/>
<path d="M322.5 328.3L325.3 325.3L328 328.3L325.3 331.4Z"/>
<path d="M327.1 327.7L329.9 324.6L332.7 327.7L329.9 330.7Z"/>
<path d="M332.3 327.2L335.1 324.1L337.9 327.2L335.1 330.2Z"/>
<path d="M337.2 327.1L340 324L342.8 327.1L340 330.2Z"/>
<path d="M341.2 327L344 323.9L346.8 327L344 330.1Z"/>
<path d="M346.8 327L349.6 323.9L352.4 327L349.6 330.1Z"/>
<path d="M353.2 327.1L356 324L358.8 327.1L356 330.2Z"/>
<path d="M360.4 327.4L363.2 324.3L366 327.4L363.2 330.5Z"/>
<path d="M367.4 327.7L370.2 324.6L373 327.7L370.2 330.8Z"/>
<path d="M375.7 328.2L378.5 325.1L381.3 328.2L378.5 331.3Z"/>
<path d="M385.7 330.1L388.5 327L391.3 330.1L388.5 333.2Z"/>
<path d="M397.8 331.1L400.6 328L403.4 331.1L400.6 334.2Z"/>
<path d="M409.5 332.2L412.3 329.1L415.1 332.2L412.3 335.3Z"/>
<path d="M419.5 333L422.3 329.9L425.1 333L422.3 336.1Z"/>
</g></g>
<g class="series-c12">
<g fill="#fff" stroke="#000" stroke-width="0.9">
<path d="M209.2 492.5L212 489.4L214.8 492.5L212 495.6Z"/>
</g></g>
<rect x="437.5" y="436.7" width="51.3" height="50.3" fill="#fff" stroke="#2e2e2e" stroke-width="1"/>
<path d="M442.4 446.5h17.2" stroke="#000" stroke-width="0.8"/>
<g fill="#000"><path d="M449.4 446.5L451.8 444.1L454.2 446.5L451.8 448.9Z"/></g>
<text x="465.8" y="449.3" class="t">Plain</text>
<path d="M442.4 456.6h17.2" stroke="#000" stroke-width="0.8"/>
<g fill="#fff" stroke="#000" stroke-width="0.9"><path d="M451.8 453.9L454.1 458.2L449.5 458.2Z"/></g>
<text x="465.8" y="459.4" class="t">C04</text>
<path d="M442.4 466.6h17.2" stroke="#000" stroke-width="0.8"/>
<g fill="#000"><path d="M449.7 464.5h4.2v4.2h-4.2Z"/></g>
<text x="465.8" y="469.4" class="t">C08</text>
<path d="M442.4 476.6h17.2" stroke="#000" stroke-width="0.8"/>
<g fill="#fff" stroke="#000" stroke-width="0.9"><path d="M449 476.6L451.8 473.6L454.6 476.6L451.8 479.7Z"/></g>
<text x="465.8" y="479.4" class="t">C12</text>
</g>
</svg>
</body></html>
